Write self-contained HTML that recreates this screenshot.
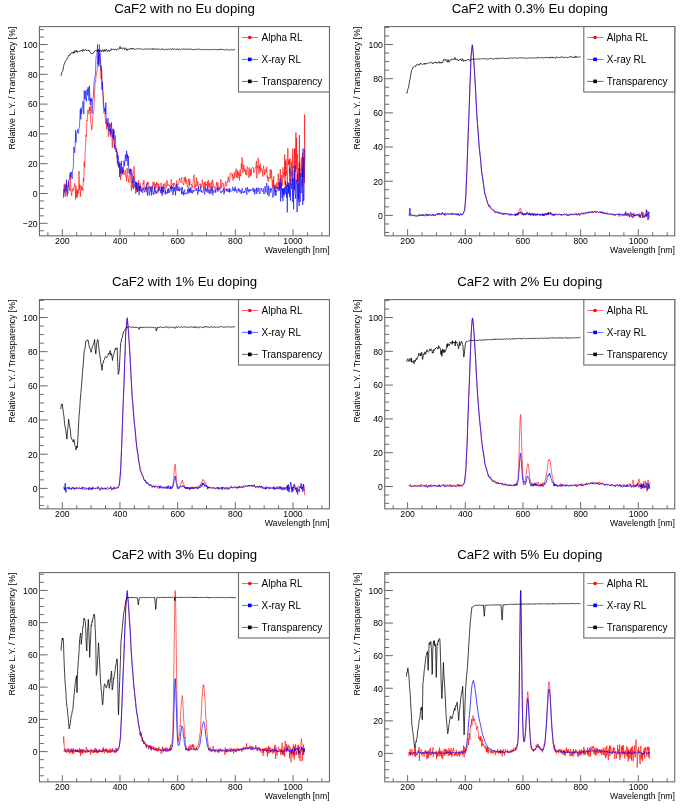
<!DOCTYPE html>
<html><head><meta charset="utf-8"><title>CaF2 Eu doping</title>
<style>html,body{margin:0;padding:0;background:#fff;width:685px;height:809px;overflow:hidden}svg{display:block;will-change:transform}</style>
</head><body>
<svg width="685" height="809" viewBox="0 0 685 809" font-family='"Liberation Sans", sans-serif'>
<rect width="685" height="809" fill="#fff"/>
<path d="M47.88 235.85V232.25M62.3 235.85V229.15M76.72 235.85V232.25M91.14 235.85V232.25M105.56 235.85V232.25M119.98 235.85V229.15M134.4 235.85V232.25M148.82 235.85V232.25M163.24 235.85V232.25M177.66 235.85V229.15M192.08 235.85V232.25M206.5 235.85V232.25M220.92 235.85V232.25M235.34 235.85V229.15M249.76 235.85V232.25M264.18 235.85V232.25M278.6 235.85V232.25M293.02 235.85V229.15M307.44 235.85V232.25M321.86 235.85V232.25M39.45 230.75H43.85M39.45 223.3H47.65M39.45 215.85H43.85M39.45 208.4H43.85M39.45 200.95H43.85M39.45 193.5H47.65M39.45 186.05H43.85M39.45 178.6H43.85M39.45 171.15H43.85M39.45 163.7H47.65M39.45 156.25H43.85M39.45 148.8H43.85M39.45 141.35H43.85M39.45 133.9H47.65M39.45 126.45H43.85M39.45 119H43.85M39.45 111.55H43.85M39.45 104.1H47.65M39.45 96.65H43.85M39.45 89.2H43.85M39.45 81.75H43.85M39.45 74.3H47.65M39.45 66.85H43.85M39.45 59.4H43.85M39.45 51.95H43.85M39.45 44.5H47.65M39.45 37.05H43.85M39.45 29.6H43.85" stroke="#6a6a6a" stroke-width="1" fill="none"/>
<rect x="39.45" y="26.6" width="290" height="209.25" fill="none" stroke="#6a6a6a" stroke-width="1.1"/>
<g font-size="8.7" fill="#000"><text transform="translate(62.3,244.3) scale(1,1.09)" text-anchor="middle">200</text><text transform="translate(119.98,244.3) scale(1,1.09)" text-anchor="middle">400</text><text transform="translate(177.66,244.3) scale(1,1.09)" text-anchor="middle">600</text><text transform="translate(235.34,244.3) scale(1,1.09)" text-anchor="middle">800</text><text transform="translate(293.02,244.3) scale(1,1.09)" text-anchor="middle">1000</text><text transform="translate(37.6,226.6) scale(1,1.09)" text-anchor="end">−20</text><text transform="translate(37.6,196.8) scale(1,1.09)" text-anchor="end">0</text><text transform="translate(37.6,167) scale(1,1.09)" text-anchor="end">20</text><text transform="translate(37.6,137.2) scale(1,1.09)" text-anchor="end">40</text><text transform="translate(37.6,107.4) scale(1,1.09)" text-anchor="end">60</text><text transform="translate(37.6,77.6) scale(1,1.09)" text-anchor="end">80</text><text transform="translate(37.6,47.8) scale(1,1.09)" text-anchor="end">100</text><text transform="translate(329.6,252.9) scale(1,1.0)" text-anchor="end">Wavelength [nm]</text><text transform="translate(14.7,26.6) rotate(-90)" text-anchor="end">Relative L.Y. / Transparency [%]</text></g>
<text transform="translate(184.5,13.3) scale(1,1.0)" text-anchor="middle" font-size="13.2">CaF2 with no Eu doping</text>
<path d="M63.5 196.1L63.9 187.2L64.3 183.8L64.8 192.2L65.2 196.7L65.6 189.7L66 186.7L66.5 183.2L66.9 196.1L67.3 196.5L67.8 185.4L68.2 186.7L68.6 180.8L69.1 183.9L69.5 189.9L69.9 190.9L70.4 175.1L70.8 190.9L71.2 193.7L71.7 195.7L72.1 188.8L72.5 188.5L73 191.3L73.4 189.7L73.8 187.8L74.3 185.5L74.7 183.3L75.1 188.2L75.6 199.3L76 185.4L76.4 197.2L76.9 190.3L77.3 197.5L77.7 189.3L78.2 193.7L78.6 188.2L79 171L79.5 189.6L79.9 184.7L80.3 196.7L80.8 190.9L81.2 185.7L81.6 189.9L82.1 187.3L82.5 188.8L82.9 190.8L83.4 177.9L83.8 181.4L84.2 161.8L84.7 167.3L85.1 152.1L85.5 147.7L85.9 134.7L86.4 136.7L86.8 120.3L87.2 121.1L87.7 109.9L88.1 110.5L88.5 110.2L89 114.2L89.4 107.2L89.8 111L90.3 106.3L90.7 121.7L91.1 123L91.6 130.1L92 128.8L92.4 121.9L92.9 114.8L93.3 114.5L93.7 112.1L94.2 103.6L94.6 93L95 83.5L95.5 82.4L95.9 77.8L96.3 75.3L96.8 71.6L97.2 71L97.6 64.4L98.1 55.3L98.5 64.3L98.9 63.2L99.4 44.5L99.8 56.6L100.2 57.1L100.7 62.4L101.1 78.9L101.5 65.9L102 75.4L102.4 89.3L102.8 93.2L103.3 102.6L103.7 112.8L104.1 112.8L104.6 114.1L105 114.3L105.4 119.7L105.8 124.3L106.3 119.1L106.7 129.4L107.1 122.9L107.6 122.1L108 129.2L108.4 136.7L108.9 133.3L109.3 128.7L109.7 128L110.2 124L110.6 136.9L111 133.5L111.5 131.8L111.9 136.7L112.3 148L112.8 134.7L113.2 129L113.6 136.2L114.1 146.5L114.5 145.7L114.9 144.2L115.4 135.4L115.8 146L116.2 151.4L116.7 147.9L117.1 158.5L117.5 152.3L118 165.8L118.4 166.7L118.8 163.1L119.3 161.7L119.7 167.1L120.1 170L120.6 179.9L121 175.1L121.4 174.8L121.9 174.7L122.3 169.7L122.7 174.2L123.2 169.2L123.6 172.7L124 174.8L124.5 172.9L124.9 171.7L125.3 170L125.7 176.3L126.2 175.6L126.6 181.2L127 168L127.5 169.1L127.9 177L128.3 178.8L128.8 182.7L129.2 176.6L129.6 176.9L130.1 168.3L130.5 177.5L130.9 182.6L131.4 190.7L131.8 173.5L132.2 179.5L132.7 188.2L133.1 180.5L133.5 189.2L134 166.3L134.4 177.6L134.8 180.6L135.3 184.4L135.7 193.9L136.1 185.1L136.6 192.1L137 182.5L137.4 192.2L137.9 188.3L138.3 181.6L138.7 180.4L139.2 189.5L139.6 190.7L140 183.1L140.5 183.3L140.9 189.2L141.3 188.4L141.8 188.5L142.2 190.2L142.6 188.6L143.1 182.6L143.5 184.4L143.9 180L144.3 186.8L144.8 186.9L145.2 189.6L145.6 186.9L146.1 190.7L146.5 192.1L146.9 184.2L147.4 181.8L147.8 183.8L148.2 182.2L148.7 185.6L149.1 188.7L149.5 186.1L150 187.6L150.4 189.9L150.8 191.7L151.3 191L151.7 186.3L152.1 185.8L152.6 187.8L153 181.7L153.4 185.7L153.9 184.4L154.3 182.3L154.7 188.8L155.2 192.5L155.6 183.8L156 188.4L156.5 182L156.9 185.1L157.3 182.9L157.8 183.7L158.2 192.7L158.6 183.8L159.1 188.2L159.5 188.5L159.9 187.4L160.4 183.6L160.8 183.2L161.2 182.8L161.7 191.3L162.1 187.9L162.5 193.6L163 186.3L163.4 184L163.8 188.4L164.2 185.1L164.7 185.2L165.1 182.7L165.5 188.5L166 188.5L166.4 188.2L166.8 180.1L167.3 182.1L167.7 185.9L168.1 184.7L168.6 184.9L169 184.5L169.4 185.7L169.9 186L170.3 188.9L170.7 186.8L171.2 179.4L171.6 182.8L172 184.2L172.5 185L172.9 184L173.3 183L173.8 186.1L174.2 183.3L174.6 183.1L175.1 186.1L175.5 186.1L175.9 186.7L176.4 186.8L176.8 180.5L177.2 190.7L177.7 184L178.1 184.7L178.5 184.4L179 181.7L179.4 178.1L179.8 181.1L180.3 181.5L180.7 182.6L181.1 180.7L181.6 177.1L182 180.9L182.4 183.5L182.9 184.1L183.3 183.8L183.7 184.9L184.1 177.2L184.6 179.7L185 181.8L185.4 176.6L185.9 183.6L186.3 179.3L186.7 179.4L187.2 187.1L187.6 187.3L188 185.4L188.5 179.6L188.9 178.4L189.3 186.6L189.8 179.4L190.2 184L190.6 184.1L191.1 184.7L191.5 184L191.9 188.8L192.4 186.3L192.8 187.1L193.2 181.7L193.7 176.6L194.1 174.6L194.5 184.5L195 189L195.4 184.8L195.8 186.6L196.3 177.3L196.7 181.9L197.1 186.1L197.6 180.9L198 182.2L198.4 189.2L198.9 185.7L199.3 184.9L199.7 184.1L200.2 183.8L200.6 185.4L201 183.8L201.5 186.3L201.9 187.4L202.3 179.7L202.8 183.5L203.2 183.3L203.6 189.8L204 185.3L204.5 182.3L204.9 189.1L205.3 181.5L205.8 186.3L206.2 183.9L206.6 185.6L207.1 184.5L207.5 181.4L207.9 186.6L208.4 180.3L208.8 187.8L209.2 188.3L209.7 183.1L210.1 188.8L210.5 186.6L211 182.6L211.4 181.7L211.8 191.2L212.3 184L212.7 179.6L213.1 181.8L213.6 186.4L214 187.6L214.4 186.7L214.9 189.4L215.3 186.6L215.7 186.4L216.2 186.3L216.6 182.1L217 186.7L217.5 190.6L217.9 182.6L218.3 189.4L218.8 187.5L219.2 186.5L219.6 187.2L220.1 189.3L220.5 187L220.9 179.2L221.4 188.2L221.8 186.7L222.2 182.7L222.7 183.9L223.1 183.9L223.5 183.6L223.9 194.6L224.4 190L224.8 185.9L225.2 184.4L225.7 181.2L226.1 184.6L226.5 186.1L227 183.4L227.4 183L227.8 179.6L228.3 176.7L228.7 180.7L229.1 182.3L229.6 182.2L230 173.8L230.4 172.7L230.9 173.6L231.3 173.9L231.7 173.7L232.2 176.9L232.6 173.8L233 180.6L233.5 176.8L233.9 178.7L234.3 172.4L234.8 177.5L235.2 175.2L235.6 172.8L236.1 168.6L236.5 177.3L236.9 177.7L237.4 170.3L237.8 178.1L238.2 171.5L238.7 175.6L239.1 173.5L239.5 180.5L240 169.8L240.4 174.7L240.8 176.2L241.3 163.6L241.7 169.2L242.1 157.4L242.6 170.1L243 173.1L243.4 171L243.8 164.6L244.3 171.3L244.7 169.1L245.1 168.7L245.6 174.5L246 170L246.4 172.5L246.9 175.4L247.3 166.5L247.7 167.2L248.2 169.5L248.6 173.5L249 177.9L249.5 167.5L249.9 169.8L250.3 176.3L250.8 169.4L251.2 175.4L251.6 169L252.1 168.2L252.5 167.2L252.9 167.7L253.4 167.8L253.8 173.1L254.2 169.8L254.7 170.3L255.1 169L255.5 166.8L256 165.2L256.4 160.9L256.8 178.3L257.3 165.8L257.7 168.2L258.1 157.8L258.6 163.3L259 174.2L259.4 165.8L259.9 169.8L260.3 163.7L260.7 172.3L261.2 168.5L261.6 168.8L262 168.8L262.4 171L262.9 176.6L263.3 167.5L263.7 165.6L264.2 170.5L264.6 174.9L265 170.2L265.5 169.1L265.9 172.6L266.3 172.3L266.8 166.8L267.2 177.8L267.6 175.9L268.1 181.9L268.5 177.3L268.9 177.9L269.4 179.2L269.8 178.6L270.2 169.1L270.7 178.2L271.1 178.7L271.5 169.9L272 180.2L272.4 188L272.8 179.9L273.3 186.3L273.7 176.4L274.1 189.1L274.6 186.8L274.9 191.3L275.1 184.5L275.4 189.4L275.7 185.7L276 187.3L276.3 188.6L276.6 182.4L276.9 182.7L277.2 185.7L277.4 189.1L277.7 189.2L278 183L278.3 173.6L278.6 185.8L278.9 187.3L279.2 186.3L279.5 188.4L279.8 187.1L280 181.3L280.3 169.2L280.6 178.7L280.9 181.8L281.2 189.5L281.5 175.2L281.8 176.8L282.1 186.1L282.3 184.9L282.6 176.3L282.9 167.3L283.2 170.2L283.5 173.5L283.8 177.8L284.1 171.9L284.4 174.7L284.7 154.5L284.9 184.6L285.2 177.3L285.5 161.5L285.8 176L286.1 159.2L286.4 173.4L286.7 171.2L287 176.3L287.3 186.5L287.5 182.2L287.8 148.2L288.1 164.6L288.4 164.7L288.7 160.6L289 164.5L289.3 159.1L289.6 173.4L289.8 172.7L290.1 158.4L290.4 174L290.7 185.6L291 172.3L291.3 176.1L291.6 161.6L291.9 178.1L292.2 182.4L292.4 173.1L292.7 148.6L293 169.2L293.3 166.3L293.6 168.1L293.9 164.1L294.2 155.3L294.5 148.6L294.8 190.6L295 148.4L295.3 167.5L295.6 171.9L295.9 132.5L296.2 169.4L296.5 138L296.8 152.1L297.1 181.7L297.3 158.6L297.6 154.5L297.9 167.5L298.2 201.6L298.5 170.5L298.8 168L299.1 182.4L299.4 135L299.7 168.2L299.9 170.5L300.2 168.8L300.5 176.6L300.8 176.4L301.1 161.5L301.4 157.6L301.7 171.4L302 164L302.2 186.5L302.5 152.8L302.8 175.1L303.1 157.7L303.4 177.7L303.7 170.5L304 157L304.3 183L304.6 114.6L304.8 160.9" fill="none" stroke="#ff0000" stroke-width="0.6" stroke-linejoin="round"/>
<path d="M63.5 198.2L63.9 189.1L64.3 191.6L64.8 192.5L65.2 184.7L65.6 189.2L66 190.8L66.5 179.7L66.9 191.1L67.3 194.4L67.8 194.1L68.2 188.8L68.6 181.7L69.1 179.8L69.5 177.5L69.9 172.9L70.4 172.7L70.8 176.9L71.2 171.9L71.7 174L72.1 179.1L72.5 170.3L73 169.9L73.4 165.2L73.8 146.9L74.3 149.8L74.7 152.8L75.1 146.6L75.6 130.2L76 142.6L76.4 134.8L76.9 133.3L77.3 131.7L77.7 129.4L78.2 133.5L78.6 131.5L79 127.9L79.5 126.7L79.9 116.6L80.3 109L80.8 119.3L81.2 107.7L81.6 113.7L82.1 109.9L82.5 105.2L82.9 101.3L83.4 103.2L83.8 114.2L84.2 90.5L84.7 98.6L85.1 99.4L85.5 90.9L85.9 97.3L86.4 101.2L86.8 89.5L87.2 89.1L87.7 95.3L88.1 87.1L88.5 91L89 100.8L89.4 85.8L89.8 95.6L90.3 105.2L90.7 98L91.1 101.6L91.6 98.6L92 113.5L92.4 101.7L92.9 99.4L93.3 95.5L93.7 90.7L94.2 81.3L94.6 78.8L95 76.2L95.5 75.8L95.9 59.3L96.3 55.3L96.8 54.4L97.2 50.5L97.6 44.5L98.1 64.1L98.5 49.4L98.9 66.6L99.4 54.8L99.8 53.9L100.2 52.8L100.7 69.9L101.1 69.2L101.5 76.4L102 89.7L102.4 81.8L102.8 89.8L103.3 95.3L103.7 105.4L104.1 107.5L104.6 111.5L105 108.3L105.4 114.1L105.8 102.6L106.3 120.6L106.7 121.7L107.1 122.6L107.6 126.9L108 118.1L108.4 122.6L108.9 131.5L109.3 126.6L109.7 123.2L110.2 134.7L110.6 129.3L111 132L111.5 122.4L111.9 131.5L112.3 136L112.8 137.8L113.2 128.7L113.6 139.6L114.1 130.3L114.5 148.5L114.9 145L115.4 147.4L115.8 151.5L116.2 151.9L116.7 150.5L117.1 158.6L117.5 164.3L118 155.1L118.4 157.1L118.8 167.5L119.3 164.2L119.7 177L120.1 162.9L120.6 173.6L121 171.3L121.4 160.9L121.9 173.8L122.3 167.1L122.7 170.4L123.2 172.3L123.6 168.1L124 160.8L124.5 166L124.9 161.6L125.3 154.6L125.7 156.8L126.2 161.2L126.6 150.9L127 158.1L127.5 154.3L127.9 165.9L128.3 156L128.8 170.1L129.2 173.3L129.6 169.4L130.1 170.7L130.5 169.6L130.9 174.5L131.4 171.1L131.8 169.5L132.2 178.9L132.7 183.1L133.1 180.2L133.5 176.3L134 177.4L134.4 183.4L134.8 187.3L135.3 184.4L135.7 181.5L136.1 189.6L136.6 182.4L137 187.3L137.4 187.2L137.9 191.2L138.3 183.1L138.7 188.7L139.2 195.2L139.6 185.8L140 191.1L140.5 186L140.9 189.1L141.3 191.9L141.8 189.4L142.2 191.7L142.6 193L143.1 190.4L143.5 187.7L143.9 190.2L144.3 190.7L144.8 192.3L145.2 188.6L145.6 189.6L146.1 187.3L146.5 189.3L146.9 183.5L147.4 195.6L147.8 190.6L148.2 188.7L148.7 187.5L149.1 195.5L149.5 194.5L150 190.6L150.4 187.1L150.8 186.9L151.3 195.5L151.7 190.1L152.1 186.7L152.6 190.4L153 193.9L153.4 192.9L153.9 194.9L154.3 186.6L154.7 191.4L155.2 191.9L155.6 193.4L156 191L156.5 193.5L156.9 193.7L157.3 190.7L157.8 191.3L158.2 189.1L158.6 190.1L159.1 186.7L159.5 190.7L159.9 189.7L160.4 189.8L160.8 193.2L161.2 186.7L161.7 192.4L162.1 195.8L162.5 186.5L163 188.5L163.4 192.4L163.8 187.5L164.2 187.5L164.7 188.3L165.1 194.4L165.5 190L166 194L166.4 192.6L166.8 192.5L167.3 193.4L167.7 189L168.1 193.2L168.6 188.6L169 190.1L169.4 192.6L169.9 190.1L170.3 188.4L170.7 186.9L171.2 191.5L171.6 185L172 188.8L172.5 186.6L172.9 195.1L173.3 194.1L173.8 186.8L174.2 191.4L174.6 189.2L175.1 186.8L175.5 195.4L175.9 189.2L176.4 184.4L176.8 188.1L177.2 190.4L177.7 188.9L178.1 190.7L178.5 188.2L179 186.5L179.4 191.4L179.8 188.8L180.3 189.7L180.7 188.3L181.1 188L181.6 194.2L182 186.9L182.4 187.9L182.9 194.2L183.3 191.6L183.7 195.4L184.1 191.6L184.6 189.6L185 194.4L185.4 193.2L185.9 193.5L186.3 192.9L186.7 193.2L187.2 194.1L187.6 188.8L188 191.3L188.5 193.3L188.9 187.4L189.3 191.8L189.8 188.8L190.2 193.2L190.6 187.7L191.1 191.6L191.5 192.6L191.9 189.8L192.4 193.4L192.8 192.9L193.2 190.1L193.7 191.6L194.1 189.8L194.5 190.3L195 190.1L195.4 190.3L195.8 189.1L196.3 190.6L196.7 188.3L197.1 188.6L197.6 194.6L198 194.2L198.4 187.4L198.9 191.5L199.3 190.2L199.7 190.8L200.2 190L200.6 186L201 192L201.5 190.4L201.9 190.5L202.3 192.8L202.8 192.3L203.2 191.1L203.6 190.6L204 189.7L204.5 194.6L204.9 193.7L205.3 187.1L205.8 190.9L206.2 188.8L206.6 191.4L207.1 192L207.5 186.1L207.9 193L208.4 192.4L208.8 189.1L209.2 190.5L209.7 193.9L210.1 190.2L210.5 189L211 193.6L211.4 191.6L211.8 188.9L212.3 186.5L212.7 195.3L213.1 191.9L213.6 190.4L214 192.4L214.4 192.4L214.9 191.5L215.3 189.4L215.7 192.7L216.2 188.7L216.6 188.8L217 188.7L217.5 187.3L217.9 191.6L218.3 190.6L218.8 188.4L219.2 187.9L219.6 188.6L220.1 191.4L220.5 191.5L220.9 193.2L221.4 191.4L221.8 192.3L222.2 191.5L222.7 191.3L223.1 188.8L223.5 188.7L223.9 190.6L224.4 192.8L224.8 190.6L225.2 189.6L225.7 188.7L226.1 190.1L226.5 188.8L227 191.8L227.4 189.2L227.8 189L228.3 191.2L228.7 192.1L229.1 188L229.6 192.5L230 189.1L230.4 191.1L230.9 191.2L231.3 191L231.7 191.4L232.2 190.6L232.6 186.8L233 187.5L233.5 190.8L233.9 189.5L234.3 188.6L234.8 191.4L235.2 186.7L235.6 190.4L236.1 189.2L236.5 192.5L236.9 192.8L237.4 192.5L237.8 191.8L238.2 188.4L238.7 191.1L239.1 188.7L239.5 191.4L240 192.5L240.4 190.2L240.8 191.3L241.3 193.9L241.7 190.4L242.1 188.1L242.6 190.9L243 193L243.4 192.1L243.8 193L244.3 191L244.7 192.4L245.1 190.7L245.6 190.1L246 187.8L246.4 192.9L246.9 194.7L247.3 187.2L247.7 189.6L248.2 191.2L248.6 189.5L249 192.4L249.5 191.2L249.9 189.1L250.3 191.1L250.8 190.2L251.2 189.6L251.6 190.3L252.1 191L252.5 189.4L252.9 187.8L253.4 187.9L253.8 192.3L254.2 188.9L254.7 194.4L255.1 193.4L255.5 189.7L256 189.4L256.4 187.7L256.8 194L257.3 188.3L257.7 191.6L258.1 191.5L258.6 189.6L259 187.6L259.4 192.4L259.9 194L260.3 191.7L260.7 190.7L261.2 188L261.6 189.8L262 191.1L262.4 191.5L262.9 191.5L263.3 188.5L263.7 193.9L264.2 193L264.6 193.6L265 186.2L265.5 189.8L265.9 192.7L266.3 187.4L266.8 183L267.2 186.3L267.6 194.8L268.1 190.7L268.5 185.7L268.9 196.5L269.4 194.3L269.8 191.3L270.2 187.8L270.7 192.6L271.1 189L271.5 190.1L272 188.3L272.4 193.8L272.8 197.5L273.3 197.2L273.7 188.7L274.1 185.6L274.6 187.4L274.9 195L275.1 195.5L275.4 190.1L275.7 192.4L276 195.7L276.3 191.1L276.6 191.9L276.9 189.4L277.2 187.5L277.4 188.2L277.7 188.2L278 187L278.3 189.2L278.6 191.1L278.9 190.6L279.2 182.4L279.5 190.3L279.8 184.3L280 179.3L280.3 178.7L280.6 201.3L280.9 187.8L281.2 182.7L281.5 191.4L281.8 193.1L282.1 197.7L282.3 192.9L282.6 188.5L282.9 201.1L283.2 188.6L283.5 194.3L283.8 188.3L284.1 196.2L284.4 187.8L284.7 187.2L284.9 193.5L285.2 193.4L285.5 181.1L285.8 183.5L286.1 194.4L286.4 184.8L286.7 197.6L287 192.5L287.3 212.4L287.5 193L287.8 182.4L288.1 192.4L288.4 183L288.7 193.8L289 185.4L289.3 189.4L289.6 196.9L289.8 168.7L290.1 195.8L290.4 200.6L290.7 186.7L291 183.3L291.3 184.5L291.6 188.9L291.9 183.2L292.2 178.4L292.4 181.5L292.7 201.9L293 169.9L293.3 188L293.6 209.3L293.9 178.8L294.2 189.2L294.5 184.5L294.8 165.8L295 193.5L295.3 194.5L295.6 198.6L295.9 185.3L296.2 179.8L296.5 182.7L296.8 185.2L297.1 212.2L297.3 183.8L297.6 173.9L297.9 193L298.2 193.2L298.5 199.1L298.8 183.5L299.1 206L299.4 162.1L299.7 188.8L299.9 193.8L300.2 201.8L300.5 178.9L300.8 173L301.1 193.2L301.4 183.3L301.7 181.6L302 172.3L302.2 176.9L302.5 168.2L302.8 204.8L303.1 148.5L303.4 192L303.7 200.8L304 198.1L304.3 179.1L304.6 173.4L304.8 148.9" fill="none" stroke="#0000ff" stroke-width="0.6" stroke-linejoin="round"/>
<path d="M61.1 75.8L61.7 72.8L62.3 71.8L62.9 70.3L63.5 66.7L64 64.7L64.6 63.1L65.2 61.8L65.8 60.9L66.3 60.2L66.9 59.3L67.5 57.9L68.1 56.9L68.6 55.4L69.2 54.9L69.8 55.5L70.4 53.5L71 53.7L71.5 52.6L72.1 52.1L72.7 52.4L73.3 53.7L73.8 51.7L74.4 52.9L75 50.5L75.6 52L76.1 51.6L76.7 50.2L77.3 52.5L77.9 51.3L78.5 52L79 51.5L79.6 51.7L80.2 50.5L80.8 51L81.3 50.4L81.9 50.1L82.5 51.5L83.1 49.3L83.6 50.3L84.2 51.1L84.8 50.2L85.4 49.4L85.9 49.4L86.5 50.7L87.1 50.3L87.7 50.4L88.3 50L88.8 51L89.4 50.4L90 52.2L90.6 53L91.1 53L91.7 53.9L92.3 54L92.9 53.1L93.4 52.9L94 52.1L94.6 51.2L95.2 51.1L95.8 50.3L96.3 50.5L96.9 50.4L97.5 51.6L98.1 49.8L98.6 50.2L99.2 49.9L99.8 51.6L100.4 50.7L100.9 50.8L101.5 51.8L102.1 50L102.7 49.8L103.3 51.6L103.8 50.4L104.4 49.5L105 51.5L105.6 50L106.1 49.6L106.7 49.4L107.3 51.6L107.9 51.4L108.4 50.5L109 49.9L109.6 51.4L110.2 50.7L110.8 50.6L111.3 48.7L111.9 49.9L112.5 49.2L113.1 49.3L113.6 49L114.2 49.6L114.8 49.7L115.4 49L115.9 49.4L116.5 50.4L117.1 49.8L117.7 48.7L118.2 49.1L118.8 49.3L119.4 48.8L120 46.5L120.6 48.7L121.1 48.2L121.7 48.1L122.3 48.7L122.9 47.7L123.4 48L124 48.3L124.6 49.6L125.2 47.8L125.7 48.2L126.3 48.8L126.9 50.6L127.5 48.9L128.1 49.7L128.6 49L129.2 49.2L129.8 49.5L130.4 48.2L130.9 48.8L131.5 48.1L132.1 49.6L132.7 49.1L133.2 48L133.8 48.7L134.4 49.2L135 49.3L135.6 49.2L136.1 49L136.7 48.8L137.3 49L137.9 48.8L138.4 48.8L139 49L139.6 48.6L140.2 48.8L140.7 49.1L141.3 49.1L141.9 49L142.5 49.3L143.1 49.5L143.6 49L144.2 49.2L144.8 48.9L145.4 49.2L145.9 49L146.5 49L147.1 49.2L147.7 49L148.2 49.3L148.8 49.2L149.4 48.8L150 49L150.6 49.1L151.1 49.3L151.7 48.9L152.3 48.5L152.9 49.8L153.4 48.8L154 49L154.6 48.8L155.2 48.8L155.7 49.4L156.3 48.6L156.9 49.3L157.5 49.2L158 48.9L158.6 49.2L159.2 49.1L159.8 49.3L160.4 49.5L160.9 49.1L161.5 49.5L162.1 48.7L162.7 49.1L163.2 48.7L163.8 49.5L164.4 49.8L165 49.9L165.5 49.3L166.1 49.6L166.7 49.1L167.3 49.6L167.9 49.6L168.4 49.1L169 49.3L169.6 49L170.2 48.9L170.7 49.1L171.3 49.6L171.9 49.5L172.5 48.5L173 49.3L173.6 49.1L174.2 49.2L174.8 49.2L175.4 49.3L175.9 49.4L176.5 49.4L177.1 49.8L177.7 48.7L178.2 49.3L178.8 49.6L179.4 49.1L180 49.1L180.5 49.7L181.1 49.4L181.7 48.8L182.3 49.1L182.9 49.2L183.4 49L184 49.3L184.6 49.4L185.2 48.8L185.7 49.4L186.3 49.3L186.9 49.1L187.5 49.3L188 49.7L188.6 48.8L189.2 49.4L189.8 48.8L190.3 49.2L190.9 49.7L191.5 48.9L192.1 49.4L192.7 49.7L193.2 49.4L193.8 50.1L194.4 49.3L195 49.6L195.5 49.5L196.1 49.7L196.7 49.2L197.3 49.3L197.8 49.1L198.4 48.9L199 49.4L199.6 49.4L200.2 49.4L200.7 49.7L201.3 49.6L201.9 49.3L202.5 49.8L203 50.1L203.6 49.6L204.2 49.4L204.8 49.1L205.3 49.7L205.9 49.8L206.5 49.5L207.1 49.6L207.7 49.5L208.2 49.7L208.8 49.5L209.4 49.7L210 49.3L210.5 49.5L211.1 49.4L211.7 49.7L212.3 50L212.8 49.6L213.4 49.6L214 49.2L214.6 49.3L215.2 49.6L215.7 49.6L216.3 49.9L216.9 49.6L217.5 49.5L218 49.7L218.6 49.9L219.2 49.2L219.8 49.9L220.3 49.1L220.9 49.3L221.5 49.1L222.1 49.9L222.7 49.4L223.2 50L223.8 49.7L224.4 50.1L225 49.9L225.5 49.8L226.1 49.3L226.7 49.3L227.3 49.8L227.8 49.7L228.4 49.9L229 50L229.6 50.2L230.1 49.7L230.7 49.5L231.3 49.9L231.9 49.6L232.5 50L233 50L233.6 49.8L234.2 49.4L234.8 49.8L235.3 49.5" fill="none" stroke="#000000" stroke-width="0.75" stroke-linejoin="round"/>
<rect x="238.5" y="26.6" width="90.95" height="65.4" fill="#fff" stroke="#6a6a6a" stroke-width="1.1"/>
<path d="M241.9 37.5H258.1" stroke="#f00" stroke-width="0.6"/>
<circle cx="249.8" cy="37.5" r="1.8" fill="#f00"/>
<text transform="translate(261.5,41) scale(1,1.0)" font-size="10">Alpha RL</text>
<path d="M241.9 59.4H258.1" stroke="#00f" stroke-width="0.6"/>
<rect x="248" y="57.6" width="3.6" height="3.6" fill="#00f"/>
<text transform="translate(261.5,62.9) scale(1,1.0)" font-size="10">X-ray RL</text>
<path d="M241.9 81.4H258.1" stroke="#000" stroke-width="0.6"/>
<rect x="248" y="79.6" width="3.6" height="3.6" fill="#000"/>
<text transform="translate(261.5,84.9) scale(1,1.0)" font-size="10">Transparency</text>
<path d="M393.18 235.85V232.25M407.6 235.85V229.15M422.02 235.85V232.25M436.44 235.85V232.25M450.86 235.85V232.25M465.28 235.85V229.15M479.7 235.85V232.25M494.12 235.85V232.25M508.54 235.85V232.25M522.96 235.85V229.15M537.38 235.85V232.25M551.8 235.85V232.25M566.22 235.85V232.25M580.64 235.85V229.15M595.06 235.85V232.25M609.48 235.85V232.25M623.9 235.85V232.25M638.32 235.85V229.15M652.74 235.85V232.25M667.16 235.85V232.25M384.75 232.49H389.15M384.75 223.94H389.15M384.75 215.4H392.95M384.75 206.86H389.15M384.75 198.31H389.15M384.75 189.77H389.15M384.75 181.22H392.95M384.75 172.68H389.15M384.75 164.13H389.15M384.75 155.59H389.15M384.75 147.04H392.95M384.75 138.5H389.15M384.75 129.95H389.15M384.75 121.41H389.15M384.75 112.86H392.95M384.75 104.31H389.15M384.75 95.77H389.15M384.75 87.22H389.15M384.75 78.68H392.95M384.75 70.13H389.15M384.75 61.59H389.15M384.75 53.04H389.15M384.75 44.5H392.95M384.75 35.95H389.15M384.75 27.41H389.15" stroke="#6a6a6a" stroke-width="1" fill="none"/>
<rect x="384.75" y="26.6" width="290" height="209.25" fill="none" stroke="#6a6a6a" stroke-width="1.1"/>
<g font-size="8.7" fill="#000"><text transform="translate(407.6,244.3) scale(1,1.09)" text-anchor="middle">200</text><text transform="translate(465.28,244.3) scale(1,1.09)" text-anchor="middle">400</text><text transform="translate(522.96,244.3) scale(1,1.09)" text-anchor="middle">600</text><text transform="translate(580.64,244.3) scale(1,1.09)" text-anchor="middle">800</text><text transform="translate(638.32,244.3) scale(1,1.09)" text-anchor="middle">1000</text><text transform="translate(382.9,218.7) scale(1,1.09)" text-anchor="end">0</text><text transform="translate(382.9,184.52) scale(1,1.09)" text-anchor="end">20</text><text transform="translate(382.9,150.34) scale(1,1.09)" text-anchor="end">40</text><text transform="translate(382.9,116.16) scale(1,1.09)" text-anchor="end">60</text><text transform="translate(382.9,81.98) scale(1,1.09)" text-anchor="end">80</text><text transform="translate(382.9,47.8) scale(1,1.09)" text-anchor="end">100</text><text transform="translate(674.9,252.9) scale(1,1.0)" text-anchor="end">Wavelength [nm]</text><text transform="translate(360,26.6) rotate(-90)" text-anchor="end">Relative L.Y. / Transparency [%]</text></g>
<text transform="translate(529.8,13.3) scale(1,1.0)" text-anchor="middle" font-size="13.2">CaF2 with 0.3% Eu doping</text>
<path d="M408.8 214.9L409.3 214.6L409.9 215.8L410.5 215.9L411.1 215.2L411.6 214.3L412.2 215.1L412.8 216L413.4 215.8L413.9 215.4L414.5 214.8L415.1 215.3L415.7 215.5L416.3 215.5L416.8 215.2L417.4 215.8L418 215.3L418.6 215.2L419.1 214.4L419.7 215.3L420.3 214.7L420.9 215.9L421.4 214.8L422 215.2L422.6 215.6L423.2 215.3L423.8 214.8L424.3 215.5L424.9 214.7L425.5 214.4L426.1 214.3L426.6 214.3L427.2 216L427.8 215L428.4 215.6L428.9 214.7L429.5 215.2L430.1 215.1L430.7 215L431.2 215.6L431.8 215.2L432.4 215.6L433 214L433.6 215.5L434.1 215L434.7 215.9L435.3 215.6L435.9 215.1L436.4 213.9L437 213.8L437.6 213.9L438.2 214.4L438.7 212.9L439.3 214.6L439.9 214.5L440.5 213.7L441.1 214.6L441.6 213.8L442.2 213.4L442.8 214L443.4 213.7L443.9 213.9L444.5 214.3L445.1 215.8L445.7 214.6L446.2 213.9L446.8 214.9L447.4 214.2L448 213.8L448.6 213.1L449.1 214.7L449.7 214.2L450.3 213.7L450.9 213.6L451.4 214.7L452 212.8L452.6 214.3L453.2 213.2L453.7 214L454.3 213.7L454.9 213L455.5 213.6L456.1 214L456.6 214.8L457.2 214.6L457.8 215.2L458.4 213.2L458.9 215.4L459.5 216L460.1 213.6L460.7 213.8L461.2 214.7L461.8 213.9L462.4 214.7L463 214.2L463.5 212.8L464.1 211.2L464.7 209.1L465.3 201.5L465.9 194.1L466.4 181.7L467 168.5L467.6 150.3L468.2 133.2L468.7 122.1L469.3 105L469.9 87.3L470.5 72.3L471 57.5L471.6 51.7L472.2 44.5L472.5 46.9L472.8 48.9L473.4 55.7L473.9 62.9L474.5 71L475.1 83.1L475.7 92.5L476.2 102.8L476.8 113.9L477.4 122.6L478 131.6L478.5 137.6L479.1 146.2L479.7 152.3L480.3 157.1L480.9 163.1L481.4 169.7L482 174.7L482.6 178.2L483.2 181.9L483.7 185.9L484.3 190.3L484.9 194.9L485.5 194.7L486 197.4L486.6 200.2L487.2 202.3L487.8 203.7L488.4 204.9L488.9 206.8L489.5 205.5L490.1 206.8L490.7 208.1L491.2 208.5L491.8 209.1L492.4 209.1L493 210L493.5 209.8L494.1 210L494.7 211.4L495.3 211.7L495.9 212.2L496.4 212.1L497 212.6L497.6 212.4L498.2 212.4L498.7 212.5L499.3 213.6L499.9 212.4L500.5 213.4L501 213.4L501.6 213.8L502.2 214.8L502.8 213.5L503.3 214.8L503.9 213.1L504.5 213.8L505.1 213L505.7 213.6L506.2 213.6L506.8 213.2L507.4 214.1L508 213.2L508.5 214.2L509.1 214.1L509.7 214.7L510.3 214L510.8 214L511.4 214.7L512 215.2L512.6 214.5L513.2 214.2L513.7 214.5L514.3 215L514.6 214.9L514.9 214.6L515.2 216L515.5 214.8L515.8 213.6L516 215.2L516.3 214.6L516.6 213.4L516.9 214L517.2 213.8L517.5 214.3L517.8 214.9L518.1 212.2L518.3 213.3L518.6 212.7L518.9 211.1L519.2 210.6L519.5 209.9L519.8 209.5L520.1 208.2L520.4 207.9L520.7 208.5L520.9 209.4L521.2 210.6L521.5 211.2L521.8 212.5L522.1 212.7L522.4 212.9L522.7 213.8L523 214.2L523.2 213.4L523.5 214L523.8 215.3L524.1 214.8L524.4 214.3L524.7 214.8L525 213.8L525.3 215.1L525.6 215L525.8 213L526.1 212.9L526.4 213.9L526.7 212.6L527 211.6L527.3 212.8L527.6 212.8L527.9 212.9L528.2 213L528.4 213.7L528.7 213.3L529 214.2L529.3 213.6L529.6 212.6L529.9 214.7L530.2 213.7L530.5 213.7L530.7 215.9L531 214.5L531.3 214.6L531.6 214.8L531.9 214.1L532.2 214.9L532.5 214.4L532.8 214.9L533.1 214.7L533.3 215.1L533.6 213.3L533.9 214.7L534.2 215.3L534.5 213.5L534.8 213.7L535.1 214.8L535.4 215.1L535.6 215.1L535.9 213.9L536.2 214.9L536.5 215.1L536.8 214.2L537.1 214.8L537.4 214.7L537.7 213.5L538 214.2L538.2 213.9L538.5 214.4L538.8 213.9L539.1 214.8L539.4 214.1L539.7 214.1L540 214.9L540.3 215.4L540.6 214.4L540.8 214.7L541.1 214.3L541.4 215L541.7 214.3L542 214.1L542.3 213.2L542.6 213.6L542.9 214.4L543.1 213.8L543.4 215L543.7 213.9L544 214.5L544.3 213.7L544.6 214.2L544.9 214.5L545.2 214.7L545.5 213.5L545.7 214L546 213.5L546.3 213.5L546.6 214.9L546.9 213.1L547.2 213.5L547.5 212.9L547.8 212.7L548.1 213.9L548.3 212.9L548.6 212.7L548.9 212.4L549.2 212.1L549.5 213.2L549.8 213L550.1 212.6L550.4 214.2L550.6 212.2L550.9 214L551.2 212.9L551.5 213.7L551.8 212.8L552.1 213.5L552.4 214.2L552.7 215.3L553 214.3L553.2 214.3L553.5 214.2L553.8 215.3L554.1 215.1L554.4 215.1L554.7 214.5L555.3 215.2L555.8 214.7L556.4 214.1L557 214.9L557.6 213.9L558.1 214.5L558.7 214.8L559.3 214L559.9 214.4L560.5 214.9L561 215L561.6 214.7L562.2 214.5L562.8 214L563.3 214.5L563.9 215.1L564.5 215.5L565.1 214.5L565.6 214.5L566.2 214L566.8 215L567.4 215.5L568 214.2L568.5 214.8L569.1 215.4L569.7 213.7L570.3 214.1L570.8 214.6L571.4 214.5L572 215.1L572.6 214L573.1 214.9L573.7 214.8L574.3 214.7L574.9 215.2L575.4 213.9L576 213.5L576.6 214L577.2 215.6L577.8 214.5L578.3 214.7L578.9 214L579.5 215.4L580.1 215.4L580.6 214.3L581.2 213.4L581.8 214L582.4 212.5L582.9 214.2L583.5 213.6L584.1 213.6L584.7 213.9L585.3 212.6L585.8 214L586.4 213.7L587 213.2L587.6 213.1L588.1 212.1L588.7 212.9L589.3 212.2L589.9 212.7L590.4 211.6L591 212.3L591.6 212L592.2 213.1L592.8 211.7L593.3 212.4L593.9 211.5L594.5 211.7L595.1 211.7L595.6 211.3L596.2 211.8L596.8 212.6L597.4 212L597.9 212L598.5 212.9L599.1 211.9L599.7 211.5L600.3 212.3L600.8 212.5L601.4 212.4L602 212.1L602.6 213.2L603.1 212.4L603.7 213.5L604.3 212.9L604.9 213L605.4 214.1L606 213.1L606.6 213.5L607.2 214.7L607.7 214.1L608.3 214.2L608.9 214.5L609.5 213.8L610.1 214.6L610.6 214.1L611.2 214.9L611.8 214.5L612.4 213.3L612.9 214.1L613.5 215.4L614.1 215L614.7 214.6L615.2 215.5L615.8 214L616.4 214.6L617 214.6L617.6 214.6L618.1 215L618.7 215.4L619.3 216.7L619.9 215.8L620.4 214.5L621 214.2L621.6 214.8L622.2 216.3L622.7 215L623.3 214.7L623.9 215.9L624.5 213.3L625.1 215.9L625.6 214.7L626.2 215.9L626.8 213.7L627.4 216.2L627.9 215.8L628.5 213.3L629.1 216.3L629.7 215.4L630.2 214L630.8 214.2L631.4 217.2L632 213.8L632.6 215.2L633.1 212.8L633.7 217.5L634.3 213.5L634.9 214.1L635.4 215.4L636 215.4L636.6 214L637.2 216L637.7 215.4L638.3 216.2L638.9 214.5L639.5 213.4L640.1 217.9L640.6 214.7L641.2 214.1L641.8 211.6L642.4 216.3L642.9 212L643.5 215.7L644.1 213.6L644.7 214.2L645.2 214.1L645.8 215.5L646.4 217.1L647 211.1L647.5 211.1L648.1 215L648.7 215.2L649.3 215.3L649.9 218.2" fill="none" stroke="#ff0000" stroke-width="0.6" stroke-linejoin="round"/>
<path d="M408.8 215.1L409.3 215.5L409.9 208.1L410.5 215L411.1 215.3L411.6 215.1L412.2 215.7L412.8 215.8L413.4 215L413.9 215.6L414.5 214.9L415.1 215.5L415.7 216.5L416.3 216.2L416.8 215.9L417.4 216.6L418 215.4L418.6 215.5L419.1 214.7L419.7 215.9L420.3 215.5L420.9 215L421.4 214.8L422 215.9L422.6 214.4L423.2 215.7L423.8 214.5L424.3 215.5L424.9 215.6L425.5 216.1L426.1 215.4L426.6 213.8L427.2 215.7L427.8 214.3L428.4 214.4L428.9 215.5L429.5 214.6L430.1 214.4L430.7 215.4L431.2 215.6L431.8 214.5L432.4 215L433 213.9L433.6 215L434.1 215.8L434.7 214.9L435.3 215.5L435.9 214.1L436.4 214L437 214.5L437.6 214.7L438.2 213.5L438.7 214.3L439.3 213.2L439.9 214.6L440.5 214.2L441.1 214.3L441.6 214.6L442.2 212.3L442.8 212.9L443.4 214.4L443.9 213.5L444.5 215.1L445.1 213.2L445.7 213.3L446.2 214.2L446.8 214.2L447.4 213.8L448 213.6L448.6 214.1L449.1 214.4L449.7 214.1L450.3 214.2L450.9 213.4L451.4 213.8L452 213.7L452.6 214.9L453.2 214.1L453.7 214.1L454.3 214.3L454.9 214.1L455.5 214.3L456.1 215.1L456.6 213.6L457.2 213.7L457.8 214.7L458.4 214L458.9 215.1L459.5 215.3L460.1 214.7L460.7 213.5L461.2 214.5L461.8 215.3L462.4 214.1L463 214.2L463.5 213.5L464.1 211.2L464.7 209.9L465.3 203.6L465.9 195.4L466.4 181L467 167.6L467.6 150.6L468.2 133.2L468.7 121.4L469.3 104.4L469.9 87.1L470.5 72L471 56.1L471.6 51.2L472.2 45.7L472.5 45.3L472.8 48.4L473.4 54.2L473.9 62.2L474.5 72.5L475.1 81.9L475.7 91.9L476.2 103.3L476.8 113.7L477.4 123.5L478 129.7L478.5 137L479.1 146L479.7 150.9L480.3 157.2L480.9 163.2L481.4 169.3L482 173.9L482.6 177.3L483.2 182.6L483.7 185.1L484.3 189.8L484.9 194.2L485.5 195.5L486 197L486.6 199.4L487.2 201.1L487.8 203.5L488.4 205L488.9 204.8L489.5 206.8L490.1 206.4L490.7 207.6L491.2 208.8L491.8 209.4L492.4 209.8L493 210.1L493.5 210.5L494.1 211L494.7 212.4L495.3 212.8L495.9 211.4L496.4 212.3L497 212.5L497.6 212.4L498.2 213.3L498.7 211.8L499.3 212.9L499.9 213.2L500.5 213.9L501 212.8L501.6 213L502.2 212.7L502.8 213.1L503.3 214.2L503.9 214.6L504.5 213L505.1 214.3L505.7 214L506.2 214.1L506.8 213.7L507.4 213.7L508 214.7L508.5 214.6L509.1 215.3L509.7 213.9L510.3 214.4L510.8 215.4L511.4 213.7L512 214.4L512.6 215.1L513.2 214.7L513.7 214.8L514.3 214.4L514.6 214.3L514.9 214.8L515.2 214.2L515.5 216.1L515.8 214.7L516 214.1L516.3 213.9L516.6 214L516.9 215.1L517.2 215.5L517.5 214.6L517.8 213L518.1 214.1L518.3 214.6L518.6 214.9L518.9 213.5L519.2 213.4L519.5 212.4L519.8 212.2L520.1 213.4L520.4 211.9L520.7 211.5L520.9 212.7L521.2 213.5L521.5 213.9L521.8 214.4L522.1 212.6L522.4 213.3L522.7 214.7L523 213.6L523.2 215.2L523.5 214.9L523.8 215L524.1 214.7L524.4 214.1L524.7 213.3L525 214L525.3 214.5L525.6 214.2L525.8 214.4L526.1 213.9L526.4 214.5L526.7 213.7L527 213.5L527.3 213.1L527.6 214.2L527.9 213.4L528.2 213.6L528.4 214.4L528.7 215.2L529 214.5L529.3 213.7L529.6 214.5L529.9 213.1L530.2 214.2L530.5 215L530.7 214.7L531 214.3L531.3 214.3L531.6 214.8L531.9 214.4L532.2 212.8L532.5 214.1L532.8 214.6L533.1 215L533.3 215.8L533.6 214.6L533.9 214.9L534.2 214.7L534.5 215L534.8 214.2L535.1 214L535.4 215.1L535.6 215.5L535.9 214.5L536.2 213.8L536.5 214.4L536.8 214.4L537.1 215.5L537.4 215L537.7 214.3L538 214.5L538.2 214.7L538.5 214.3L538.8 214.2L539.1 214.6L539.4 215.1L539.7 215.5L540 214.5L540.3 214.8L540.6 214.8L540.8 214L541.1 215.1L541.4 214.8L541.7 214.3L542 215.2L542.3 216L542.6 215L542.9 214.2L543.1 215L543.4 214.8L543.7 215.8L544 213.9L544.3 215.7L544.6 215L544.9 214.6L545.2 213.3L545.5 214.4L545.7 214.8L546 215.2L546.3 214.4L546.6 214.9L546.9 214.5L547.2 214L547.5 213.2L547.8 214.5L548.1 212.9L548.3 214.9L548.6 212.5L548.9 214.1L549.2 213.9L549.5 214L549.8 213.6L550.1 213.9L550.4 214.1L550.6 214.4L550.9 214.4L551.2 214.1L551.5 214.6L551.8 214.7L552.1 215.3L552.4 214.4L552.7 214.2L553 215.2L553.2 214L553.5 214.6L553.8 214.6L554.1 215.7L554.4 214.3L554.7 213.9L555.3 213.5L555.8 215L556.4 214.7L557 214.2L557.6 214.4L558.1 215.1L558.7 214.6L559.3 214.1L559.9 214.3L560.5 214.7L561 214.1L561.6 215.6L562.2 214.4L562.8 215.1L563.3 214.9L563.9 214.2L564.5 213.6L565.1 214.4L565.6 214.6L566.2 213.7L566.8 214.2L567.4 216L568 215L568.5 215.1L569.1 215.1L569.7 215.6L570.3 214.3L570.8 214.5L571.4 213.6L572 214.8L572.6 214.5L573.1 215L573.7 213.9L574.3 213.8L574.9 213.5L575.4 213.9L576 214.8L576.6 213.7L577.2 214.9L577.8 214.7L578.3 214.4L578.9 213L579.5 214.6L580.1 214.7L580.6 213.9L581.2 213.2L581.8 213.5L582.4 213.4L582.9 214.2L583.5 213.8L584.1 212.7L584.7 213.3L585.3 213.6L585.8 213.3L586.4 212.2L587 211.9L587.6 212.6L588.1 213.2L588.7 211.6L589.3 212.9L589.9 212.3L590.4 212.1L591 212.2L591.6 212.3L592.2 211.1L592.8 211.8L593.3 212.8L593.9 212.3L594.5 211.2L595.1 212L595.6 212.6L596.2 211.4L596.8 211.7L597.4 212L597.9 211.7L598.5 212.4L599.1 212.1L599.7 212L600.3 212.7L600.8 211.7L601.4 213.2L602 211.5L602.6 212.8L603.1 212.7L603.7 213.7L604.3 212.7L604.9 213.7L605.4 213L606 213.4L606.6 214L607.2 212.6L607.7 213.6L608.3 214.1L608.9 214.1L609.5 213.8L610.1 214L610.6 213.6L611.2 214.5L611.8 214.1L612.4 214.6L612.9 214.8L613.5 213.9L614.1 214.9L614.7 215.4L615.2 214.1L615.8 214.8L616.4 214.2L617 214.2L617.6 214.3L618.1 214.5L618.7 213.6L619.3 215.3L619.9 213.7L620.4 214.7L621 214.4L621.6 215L622.2 213.8L622.7 214.1L623.3 215.1L623.9 214.6L624.5 214.1L625.1 214.8L625.6 211.6L626.2 213.9L626.8 215.1L627.4 213.2L627.9 214.2L628.5 215.3L629.1 215.1L629.7 217.1L630.2 213.3L630.8 212L631.4 214.7L632 216L632.6 217.7L633.1 216.8L633.7 214.5L634.3 215.8L634.9 214.8L635.4 216.2L636 214.9L636.6 215L637.2 214.1L637.7 214.3L638.3 214.1L638.9 216.4L639.5 215.2L640.1 217.5L640.6 215.7L641.2 214.6L641.8 213.4L642.4 218L642.9 217L643.5 215.9L644.1 217.8L644.7 215.3L645.2 215L645.8 216.6L646.4 209.6L647 215.7L647.5 213.7L648.1 220L648.7 211.8L649.3 213.4L649.9 213.8" fill="none" stroke="#0000ff" stroke-width="0.72" stroke-linejoin="round"/>
<path d="M406.4 92.4L407 93.2L407.6 90.4L408.2 88.1L408.8 85.9L409.3 82.8L409.9 79.7L410.5 76.4L411.1 73L411.6 70.3L412.2 69.5L412.8 67.4L413.4 67L413.9 66.6L414.5 66.2L415.1 66.3L415.7 66.5L416.3 65L416.8 64.8L417.4 64.1L418 64L418.6 65.2L419.1 64.7L419.7 64.9L420.3 63.2L420.9 64L421.4 63.7L422 64.4L422.6 64.6L423.2 64L423.8 63.6L424.3 63.1L424.9 64.5L425.5 63.1L426.1 63.9L426.6 63.6L427.2 63.4L427.8 63.5L428.4 62.8L428.9 62.4L429.5 62.8L430.1 63.4L430.7 62.6L431.2 62.6L431.8 62.2L432.4 62.6L433 64L433.6 63.3L434.1 63L434.7 62L435.3 62.8L435.9 61.9L436.4 62.4L437 63.4L437.6 62.5L438.2 61.9L438.7 61.9L439.3 63.2L439.9 61.6L440.5 62.3L441.1 63.3L441.6 62L442.2 62.9L442.8 62.3L443.4 60.1L443.9 59.2L444.5 60.1L445.1 60.5L445.7 59.2L446.2 60.3L446.8 61.2L447.4 62.2L448 59.6L448.6 61.9L449.1 62.3L449.7 60.5L450.3 59.8L450.9 60.4L451.4 58.9L452 59.6L452.6 59.3L453.2 59L453.7 59.7L454.3 59L454.9 57.3L455.5 59.9L456.1 59.2L456.6 59L457.2 59.9L457.8 59.6L458.4 61L458.9 60.2L459.5 59.9L460.1 59.1L460.7 59.2L461.2 60.4L461.8 60.9L462.4 58.6L463 59.4L463.5 61.5L464.1 60.3L464.7 60.7L465.3 60.4L465.9 61.2L466.4 60.2L467 60.2L467.6 59.9L468.2 58.9L468.7 59.4L469.3 60.5L469.9 60.8L470.5 59.8L471 59.1L471.6 59.1L472.2 59.4L472.8 58.9L473.4 59.1L473.9 59.3L474.5 59L475.1 59.2L475.7 59.4L476.2 59.2L476.8 59.1L477.4 58.7L478 59.3L478.5 59L479.1 59L479.7 59L480.3 59.3L480.9 58.7L481.4 58.6L482 58.5L482.6 58.8L483.2 58.5L483.7 58.8L484.3 58.6L484.9 59L485.5 58.8L486 58.9L486.6 59.1L487.2 58.9L487.8 59.1L488.4 59.1L488.9 58.9L489.5 58.9L490.1 58.2L490.7 58.3L491.2 58.4L491.8 58.5L492.4 58.9L493 58.6L493.5 59L494.1 58.8L494.7 58.7L495.3 58.7L495.9 58.4L496.4 58.8L497 57.9L497.6 58.7L498.2 58.3L498.7 58.9L499.3 58.3L499.9 58.8L500.5 58.4L501 58.4L501.6 58.2L502.2 58.3L502.8 58.3L503.3 58.4L503.9 57.9L504.5 58.5L505.1 58.3L505.7 58.5L506.2 58.3L506.8 58.6L507.4 58.4L508 58.2L508.5 58.4L509.1 58.2L509.7 58.4L510.3 57.9L510.8 58.3L511.4 57.8L512 58.1L512.6 58.3L513.2 58L513.7 57.9L514.3 57.8L514.9 57.8L515.5 57.9L516 58.5L516.6 57.9L517.2 58.2L517.8 58L518.3 57.8L518.9 58.3L519.5 57.8L520.1 57.5L520.7 58L521.2 58.2L521.8 57.7L522.4 58L523 57.8L523.5 57.7L524.1 58.4L524.7 58L525.3 58.4L525.8 58.2L526.4 57.9L527 58.3L527.6 58.2L528.2 58.1L528.7 57.9L529.3 57.9L529.9 57.8L530.5 58.1L531 58.1L531.6 57.8L532.2 58.1L532.8 58.1L533.3 57.7L533.9 58.1L534.5 58.1L535.1 57.6L535.6 57.9L536.2 58.4L536.8 58L537.4 57.3L538 57.1L538.5 57.9L539.1 57.6L539.7 57.6L540.3 57.7L540.8 58.2L541.4 57.5L542 57.7L542.6 57.8L543.1 58.1L543.7 57.9L544.3 57.7L544.9 57.8L545.5 57.6L546 57.9L546.6 57.2L547.2 57.3L547.8 58.2L548.3 57.9L548.9 57.4L549.5 57.9L550.1 56.9L550.6 57.9L551.2 57.5L551.8 57.3L552.4 58.1L553 56.9L553.5 57.6L554.1 57.9L554.7 57.9L555.3 58.4L555.8 58.2L556.4 56.7L557 57.5L557.6 57.6L558.1 57.3L558.7 57.1L559.3 57.8L559.9 57.5L560.5 57.3L561 56.9L561.6 57.2L562.2 56.5L562.8 57.5L563.3 57.5L563.9 58L564.5 57.3L565.1 57L565.6 57.4L566.2 57.4L566.8 57.8L567.4 57.6L568 57.5L568.5 57.3L569.1 56.7L569.7 57L570.3 56.7L570.8 56.6L571.4 57.4L572 56.5L572.6 57.1L573.1 57.8L573.7 57.4L574.3 57.2L574.9 57.9L575.4 55.9L576 57.1L576.6 56.6L577.2 57.7L577.8 57L578.3 56.9L578.9 57.4L579.5 56.9L580.1 57L580.6 56.8" fill="none" stroke="#000000" stroke-width="0.75" stroke-linejoin="round"/>
<rect x="583.8" y="26.6" width="90.95" height="65.4" fill="#fff" stroke="#6a6a6a" stroke-width="1.1"/>
<path d="M587.2 37.5H603.4" stroke="#f00" stroke-width="0.6"/>
<circle cx="595.1" cy="37.5" r="1.8" fill="#f00"/>
<text transform="translate(606.8,41) scale(1,1.0)" font-size="10">Alpha RL</text>
<path d="M587.2 59.4H603.4" stroke="#00f" stroke-width="0.6"/>
<rect x="593.3" y="57.6" width="3.6" height="3.6" fill="#00f"/>
<text transform="translate(606.8,62.9) scale(1,1.0)" font-size="10">X-ray RL</text>
<path d="M587.2 81.4H603.4" stroke="#000" stroke-width="0.6"/>
<rect x="593.3" y="79.6" width="3.6" height="3.6" fill="#000"/>
<text transform="translate(606.8,84.9) scale(1,1.0)" font-size="10">Transparency</text>
<path d="M47.88 508.85V505.25M62.3 508.85V502.15M76.72 508.85V505.25M91.14 508.85V505.25M105.56 508.85V505.25M119.98 508.85V502.15M134.4 508.85V505.25M148.82 508.85V505.25M163.24 508.85V505.25M177.66 508.85V502.15M192.08 508.85V505.25M206.5 508.85V505.25M220.92 508.85V505.25M235.34 508.85V502.15M249.76 508.85V505.25M264.18 508.85V505.25M278.6 508.85V505.25M293.02 508.85V502.15M307.44 508.85V505.25M321.86 508.85V505.25M39.45 505.49H43.85M39.45 496.94H43.85M39.45 488.4H47.65M39.45 479.85H43.85M39.45 471.31H43.85M39.45 462.76H43.85M39.45 454.22H47.65M39.45 445.67H43.85M39.45 437.13H43.85M39.45 428.58H43.85M39.45 420.04H47.65M39.45 411.5H43.85M39.45 402.95H43.85M39.45 394.4H43.85M39.45 385.86H47.65M39.45 377.31H43.85M39.45 368.77H43.85M39.45 360.23H43.85M39.45 351.68H47.65M39.45 343.13H43.85M39.45 334.59H43.85M39.45 326.04H43.85M39.45 317.5H47.65M39.45 308.95H43.85M39.45 300.41H43.85" stroke="#6a6a6a" stroke-width="1" fill="none"/>
<rect x="39.45" y="299.6" width="290" height="209.25" fill="none" stroke="#6a6a6a" stroke-width="1.1"/>
<g font-size="8.7" fill="#000"><text transform="translate(62.3,517.3) scale(1,1.09)" text-anchor="middle">200</text><text transform="translate(119.98,517.3) scale(1,1.09)" text-anchor="middle">400</text><text transform="translate(177.66,517.3) scale(1,1.09)" text-anchor="middle">600</text><text transform="translate(235.34,517.3) scale(1,1.09)" text-anchor="middle">800</text><text transform="translate(293.02,517.3) scale(1,1.09)" text-anchor="middle">1000</text><text transform="translate(37.6,491.7) scale(1,1.09)" text-anchor="end">0</text><text transform="translate(37.6,457.52) scale(1,1.09)" text-anchor="end">20</text><text transform="translate(37.6,423.34) scale(1,1.09)" text-anchor="end">40</text><text transform="translate(37.6,389.16) scale(1,1.09)" text-anchor="end">60</text><text transform="translate(37.6,354.98) scale(1,1.09)" text-anchor="end">80</text><text transform="translate(37.6,320.8) scale(1,1.09)" text-anchor="end">100</text><text transform="translate(329.6,525.9) scale(1,1.0)" text-anchor="end">Wavelength [nm]</text><text transform="translate(14.7,299.6) rotate(-90)" text-anchor="end">Relative L.Y. / Transparency [%]</text></g>
<text transform="translate(184.5,286.3) scale(1,1.0)" text-anchor="middle" font-size="13.2">CaF2 with 1% Eu doping</text>
<path d="M63.5 488L64 488.3L64.6 489L65.2 487.7L65.8 488.1L66.3 488.1L66.9 488.2L67.5 487.3L68.1 487.7L68.6 487.5L69.2 488.5L69.8 488.6L70.4 488.9L71 488.5L71.5 490L72.1 487.3L72.7 488.2L73.3 488.2L73.8 487.8L74.4 488.5L75 488.1L75.6 487.8L76.1 489.3L76.7 487.2L77.3 488.2L77.9 487.9L78.5 489L79 488.7L79.6 487.2L80.2 488.6L80.8 488.6L81.3 488L81.9 487.4L82.5 489.8L83.1 487.4L83.6 488.1L84.2 487.7L84.8 488.9L85.4 488.1L85.9 487.3L86.5 488.4L87.1 488.7L87.7 488.6L88.3 488.6L88.8 487.8L89.4 488.2L90 488.6L90.6 487.8L91.1 489L91.7 489.2L92.3 486.7L92.9 488.7L93.4 487.3L94 488.4L94.6 488.4L95.2 488L95.8 488.8L96.3 488.8L96.9 488.4L97.5 488.5L98.1 487.8L98.6 487.1L99.2 489.1L99.8 488.9L100.4 487.8L100.9 488L101.5 487.6L102.1 488.8L102.7 487.9L103.3 488.3L103.8 489.3L104.4 488L105 489.3L105.6 488L106.1 488.6L106.7 488.4L107.3 486.9L107.9 487.3L108.4 488L109 488L109.6 488.8L110.2 487.5L110.8 487.9L111.3 488.8L111.9 489.4L112.5 488.3L113.1 488.4L113.6 487.7L114.2 489L114.8 488.8L115.4 487.9L115.9 488L116.5 487.4L117.1 487.1L117.7 488.2L118.2 488.3L118.8 485.6L119.4 483.5L120 477.4L120.6 473L121.1 458.5L121.7 445.6L122.3 428.6L122.9 410.5L123.4 398.2L124 383.5L124.6 364.3L125.2 348.8L125.7 334.4L126.3 326.7L126.9 320.8L127.2 317.5L127.5 320.7L128.1 327.4L128.6 333.7L129.2 343L129.8 353.5L130.4 363.9L130.9 373.6L131.5 385.2L132.1 395.7L132.7 402.4L133.2 410.7L133.8 417L134.4 423.9L135 429.4L135.6 434.6L136.1 440.5L136.7 446.7L137.3 452L137.9 454.7L138.4 459L139 461.6L139.6 465L140.2 468L140.7 470L141.3 472L141.9 473.9L142.5 476.5L143.1 477.3L143.6 478.9L144.2 480.2L144.8 480.3L145.4 480.1L145.9 482L146.5 483.7L147.1 482.2L147.7 483.3L148.2 483.5L148.8 484.5L149.4 484.3L150 483.8L150.6 485.5L151.1 484.8L151.7 485.3L152.3 486.3L152.9 485.8L153.4 485.8L154 486.9L154.6 485.7L155.2 487.3L155.7 486L156.3 486.4L156.9 486.8L157.5 487.6L158 487.6L158.6 488.6L159.2 487.2L159.8 487.3L160.4 487L160.9 486.7L161.5 487.3L162.1 487.7L162.7 486.9L163.2 487.5L163.8 487.6L164.4 488.4L165 487L165.5 488.1L166.1 486.5L166.7 488.3L167.3 488L167.9 487.7L168.4 488.2L169 488.6L169.3 488.4L169.6 488.2L169.9 487.8L170.2 487L170.4 487.2L170.7 487.3L171 487L171.3 488.8L171.6 487.7L171.9 487.5L172.2 487.5L172.5 486L172.8 485.8L173 484.6L173.3 481.3L173.6 479.5L173.9 475.9L174.2 473L174.5 468L174.8 466.1L175.1 464.2L175.4 464.7L175.6 468.2L175.9 472.3L176.2 476.2L176.5 478L176.8 482L177.1 483.5L177.4 485.2L177.7 488.4L177.9 486.7L178.2 487L178.5 487.1L178.8 487.3L179.1 487L179.4 487.6L179.7 486.3L180 486.5L180.3 485.6L180.5 483.9L180.8 484L181.1 483.9L181.4 482.2L181.7 482.6L182 481L182.3 480.1L182.6 481.8L182.9 481.8L183.1 483L183.4 483.2L183.7 484L184 485L184.3 486L184.6 487.6L184.9 487.5L185.2 487.5L185.4 486.9L185.7 488.9L186 487L186.3 488.3L186.6 488.9L186.9 487L187.2 487.7L187.5 488.5L187.8 487.8L188 487.6L188.3 488.8L188.6 487.1L188.9 488.5L189.2 487.4L189.5 488.3L189.8 489L190.1 488.4L190.3 488.3L190.6 487.9L190.9 489L191.2 488.6L191.5 487.8L191.8 488.2L192.1 488.3L192.4 487.7L192.7 488.8L192.9 486.7L193.2 488.4L193.5 487.7L193.8 488.1L194.1 487.3L194.4 488.2L194.7 488.4L195 487.8L195.3 487.5L195.5 488L195.8 486.6L196.1 487.4L196.4 487L196.7 487L197 487.1L197.3 487.8L197.6 486.6L197.8 487.8L198.1 487.3L198.4 486.4L198.7 486.4L199 487.5L199.3 486.7L199.6 486.7L199.9 485L200.2 485.5L200.4 484.7L200.7 484.6L201 483.8L201.3 482.5L201.6 482.9L201.9 481.6L202.2 481.4L202.5 480.8L202.8 481L203 479.3L203.3 480.9L203.6 480.8L203.9 480.5L204.2 480.6L204.5 481.6L204.8 482.7L205.1 482.6L205.3 483.5L205.6 483.9L205.9 483.1L206.2 486L206.5 485.3L206.8 485.5L207.1 486.4L207.4 486.7L207.7 486.1L207.9 487.2L208.2 488.3L208.5 487.7L208.8 487.3L209.1 487.9L209.4 488.1L210 487.7L210.5 488.2L211.1 487.9L211.7 487.6L212.3 488.4L212.8 489L213.4 487.2L214 487.8L214.6 488.5L215.2 488.9L215.7 488.1L216.3 487.9L216.9 487.8L217.5 487.9L218 488.4L218.6 488.3L219.2 489L219.8 488.6L220.3 488.4L220.9 487.4L221.5 488.9L222.1 486.9L222.7 487.5L223.2 488.4L223.8 488.5L224.4 487.9L225 487.8L225.5 487.6L226.1 489.1L226.7 488.3L227.3 487.7L227.8 487.5L228.4 487.7L229 488L229.6 487.8L230.1 488.3L230.7 486.9L231.3 487.3L231.9 487.6L232.5 488.2L233 487.8L233.6 487.5L234.2 487.6L234.8 486.6L235.3 486.3L235.9 486.9L236.5 488.1L237.1 486.9L237.6 487.5L238.2 487.1L238.8 485.9L239.4 488L240 487.7L240.5 487.2L241.1 486.2L241.7 486.8L242.3 487.7L242.8 486.2L243.4 485.9L244 485.5L244.6 486.1L245.1 485.4L245.7 486.4L246.3 485.4L246.9 485.1L247.5 486L248 486L248.6 485L249.2 486.2L249.8 486.3L250.3 485.7L250.9 485.4L251.5 485.2L252.1 486.1L252.6 485.6L253.2 486.5L253.8 486.7L254.4 484.6L255 486.6L255.5 487.2L256.1 486.1L256.7 486.9L257.3 486.1L257.8 488.1L258.4 487.4L259 486.1L259.6 486.7L260.1 487.5L260.7 486.1L261.3 486.5L261.9 487.5L262.4 486.6L263 487L263.6 488.2L264.2 488L264.8 487.5L265.3 488.3L265.9 488.7L266.5 488.1L267.1 487.4L267.6 487.8L268.2 488.5L268.8 489.4L269.4 487.5L269.9 488.2L270.5 487.5L271.1 488.1L271.7 488.4L272.3 488L272.8 488.5L273.4 488.5L274 488.7L274.6 489.7L275.1 487.4L275.7 487.3L276.3 488.6L276.9 488.5L277.4 486.2L278 487.7L278.6 488.6L279.2 489.4L279.8 486.5L280.3 486.9L280.9 489.1L281.5 487.4L282.1 489.2L282.6 488.6L283.2 486.9L283.8 488.5L284.4 489.1L284.9 490.1L285.5 487.4L286.1 488.5L286.7 489.9L287.3 485.3L287.8 489.2L288.4 489L289 487.6L289.6 488.6L290.1 488.2L290.7 487.6L291.3 489L291.9 489.8L292.4 488.7L293 486.4L293.6 488.2L294.2 485.4L294.8 488L295.3 489.9L295.9 487.8L296.5 488.6L297.1 489.1L297.6 488.6L298.2 486.3L298.8 486.4L299.4 487.5L299.9 487.7L300.5 486.8L301.1 486.6L301.7 487.3L302.2 489.7L302.8 485.4L303.4 485.5L304 485.1L304.6 495.1" fill="none" stroke="#ff0000" stroke-width="0.6" stroke-linejoin="round"/>
<path d="M63.5 486.8L64 487.6L64.6 490.2L65.2 483.2L65.8 492.5L66.3 488.3L66.9 487.7L67.5 487.9L68.1 487.9L68.6 489.2L69.2 486.9L69.8 488.9L70.4 488.4L71 488.4L71.5 488.4L72.1 488.8L72.7 487.2L73.3 488.3L73.8 487.6L74.4 489.6L75 487.9L75.6 488.5L76.1 488.1L76.7 488.2L77.3 488L77.9 488.5L78.5 488.3L79 488.3L79.6 488.2L80.2 488.3L80.8 488.7L81.3 488L81.9 489L82.5 486.8L83.1 487.7L83.6 487.2L84.2 488.5L84.8 489.4L85.4 489.6L85.9 489L86.5 488.9L87.1 488.7L87.7 488.7L88.3 487.9L88.8 490.2L89.4 487.1L90 488.7L90.6 488.3L91.1 489.8L91.7 488.2L92.3 489.5L92.9 488L93.4 488.2L94 488.2L94.6 488.5L95.2 488.6L95.8 488.6L96.3 487.7L96.9 488.3L97.5 488.2L98.1 486.5L98.6 488.3L99.2 489.1L99.8 490.2L100.4 490.3L100.9 488.3L101.5 487.7L102.1 489.2L102.7 489.3L103.3 488.5L103.8 488.3L104.4 487.7L105 488.5L105.6 488.9L106.1 487.9L106.7 489.1L107.3 489.5L107.9 489.3L108.4 488.7L109 488.7L109.6 488.4L110.2 488.4L110.8 486.5L111.3 488.1L111.9 490.1L112.5 489.5L113.1 488.3L113.6 489.1L114.2 486.7L114.8 488.7L115.4 488.6L115.9 488.1L116.5 488.3L117.1 487.5L117.7 487.9L118.2 486.7L118.8 486.2L119.4 485.2L120 477.3L120.6 470L121.1 459.3L121.7 446.1L122.3 427.6L122.9 411.1L123.4 398.1L124 383.6L124.6 364.4L125.2 349.4L125.7 333.2L126.3 326.6L126.9 320.7L127.2 318.6L127.5 320.5L128.1 327.4L128.6 333.1L129.2 342.8L129.8 350.9L130.4 363.6L130.9 373.6L131.5 383.8L132.1 396.2L132.7 401.6L133.2 408.2L133.8 417.1L134.4 423.5L135 428.4L135.6 435.1L136.1 441L136.7 446L137.3 451.1L137.9 452.9L138.4 458.6L139 462.2L139.6 466.4L140.2 470.5L140.7 471.7L141.3 472.7L141.9 474.4L142.5 475.4L143.1 475.9L143.6 478.2L144.2 479.7L144.8 480.9L145.4 480.1L145.9 482.5L146.5 482.7L147.1 482L147.7 483.6L148.2 484L148.8 484.2L149.4 486L150 485L150.6 485L151.1 485.1L151.7 485.9L152.3 487.5L152.9 486.7L153.4 485.7L154 487L154.6 487.3L155.2 486.3L155.7 486.4L156.3 486.8L156.9 486.6L157.5 486.5L158 486.8L158.6 487L159.2 485.9L159.8 488.3L160.4 485.7L160.9 487.3L161.5 488.1L162.1 487L162.7 486.8L163.2 488.6L163.8 487.6L164.4 487.1L165 487.1L165.5 487.8L166.1 488.7L166.7 488L167.3 486.2L167.9 488.6L168.4 485.5L169 487.9L169.3 488L169.6 488.3L169.9 487.8L170.2 487.7L170.4 488.7L170.7 486.2L171 486.9L171.3 487.5L171.6 488.8L171.9 487.9L172.2 487.6L172.5 486.6L172.8 486.9L173 487L173.3 485.3L173.6 483.9L173.9 482.1L174.2 479.7L174.5 479.2L174.8 478.7L175.1 476.1L175.4 476.7L175.6 479.7L175.9 479.8L176.2 482.6L176.5 483.3L176.8 484.7L177.1 487.3L177.4 487.7L177.7 487.4L177.9 488.7L178.2 488.6L178.5 488.5L178.8 487.9L179.1 487.8L179.4 488.3L179.7 487.7L180 486.4L180.3 486.7L180.5 486.5L180.8 487L181.1 486.6L181.4 486.6L181.7 486L182 486.6L182.3 485.2L182.6 485.5L182.9 485.9L183.1 486.2L183.4 487.1L183.7 485.9L184 486.4L184.3 486.3L184.6 487.2L184.9 487.8L185.2 487.1L185.4 488.9L185.7 489.1L186 487.3L186.3 487.7L186.6 487.9L186.9 487L187.2 488.1L187.5 487.9L187.8 487.8L188 489.1L188.3 487.8L188.6 487.7L188.9 488.2L189.2 488.7L189.5 488.8L189.8 489.9L190.1 488.8L190.3 487.1L190.6 487.2L190.9 488.2L191.2 488.8L191.5 487.2L191.8 487.3L192.1 487.7L192.4 488.7L192.7 487.5L192.9 487.4L193.2 488.5L193.5 488.8L193.8 488.5L194.1 488L194.4 487.8L194.7 487.7L195 488.1L195.3 488.5L195.5 487.8L195.8 487.3L196.1 488L196.4 487.5L196.7 488.1L197 488.6L197.3 488.3L197.6 488.1L197.8 489.1L198.1 488L198.4 488.3L198.7 487.5L199 487L199.3 487.3L199.6 487.6L199.9 486.9L200.2 487.7L200.4 486.2L200.7 485.3L201 485.6L201.3 484.6L201.6 485.7L201.9 486.5L202.2 484.4L202.5 482.8L202.8 485.1L203 483.1L203.3 484.7L203.6 483.1L203.9 484.9L204.2 484.8L204.5 484.5L204.8 486.3L205.1 485.3L205.3 485.8L205.6 485.3L205.9 486.1L206.2 486.5L206.5 486.9L206.8 485.6L207.1 486.9L207.4 487.3L207.7 489.2L207.9 486.5L208.2 487.8L208.5 487.7L208.8 487.3L209.1 487.8L209.4 486.9L210 488L210.5 487.7L211.1 487.9L211.7 487.6L212.3 487.9L212.8 487.8L213.4 487.9L214 488L214.6 487.7L215.2 488.7L215.7 488.7L216.3 488.2L216.9 488.1L217.5 487.2L218 489.3L218.6 487.1L219.2 488.6L219.8 488.8L220.3 487.9L220.9 487.9L221.5 487.4L222.1 489.8L222.7 487.3L223.2 487.8L223.8 487.1L224.4 488.3L225 489.3L225.5 488.3L226.1 488.3L226.7 487.6L227.3 487.4L227.8 489.7L228.4 489.3L229 488L229.6 488.6L230.1 487.2L230.7 486.9L231.3 486.3L231.9 487.8L232.5 487L233 487.3L233.6 487.6L234.2 488L234.8 486.8L235.3 487L235.9 487.6L236.5 487.6L237.1 488.7L237.6 487.1L238.2 487.1L238.8 487.9L239.4 486L240 486.9L240.5 487.7L241.1 487L241.7 487.5L242.3 487.2L242.8 487.5L243.4 486.3L244 487.5L244.6 486.7L245.1 486.1L245.7 486.2L246.3 485.9L246.9 486.5L247.5 486.4L248 485.6L248.6 486.1L249.2 485.1L249.8 486.2L250.3 485.7L250.9 486.1L251.5 485.1L252.1 486.6L252.6 485.3L253.2 485.1L253.8 485.7L254.4 485.1L255 486.9L255.5 487.6L256.1 486.9L256.7 486.8L257.3 486.3L257.8 487.1L258.4 487.1L259 487.1L259.6 485.7L260.1 487.5L260.7 487.2L261.3 487L261.9 486.1L262.4 488.4L263 488.8L263.6 487.6L264.2 488.3L264.8 488.2L265.3 489.3L265.9 486.6L266.5 489L267.1 487.5L267.6 487.5L268.2 487.3L268.8 486.8L269.4 488.4L269.9 489L270.5 487.8L271.1 487.4L271.7 488.2L272.3 488.3L272.8 487.2L273.4 489L274 486.5L274.6 489.6L275.1 489L275.7 488.3L276.3 489.1L276.9 487.3L277.4 488.9L278 488.8L278.6 488.6L279.2 486.7L279.8 488.2L280.3 488.5L280.9 486.5L281.5 489.5L282.1 490.2L282.6 488.2L283.2 487.5L283.8 489.8L284.4 488.6L284.9 487.5L285.5 488.6L286.1 487.6L286.7 488.3L287.3 485.4L287.8 491.1L288.4 484.6L289 492.2L289.6 487.4L290.1 486.6L290.7 482.1L291.3 485.2L291.9 492.4L292.4 487.2L293 491.1L293.6 485.5L294.2 484.1L294.8 485.4L295.3 489L295.9 487.9L296.5 492.1L297.1 487.4L297.6 494.5L298.2 489.2L298.8 489.6L299.4 491.7L299.9 486.8L300.5 487.5L301.1 483.3L301.7 488.9L302.2 487L302.8 491.7L303.4 484L304 490.2L304.6 490.5" fill="none" stroke="#0000ff" stroke-width="0.72" stroke-linejoin="round"/>
<path d="M60.6 409.1L61.1 406.7L61.7 404L62.3 404L62.9 408.9L63.5 413.8L64 416.7L64.6 423.9L65.2 427.2L65.8 430.4L66.3 435L66.9 439.1L67.5 431.2L68.1 425.6L68.6 419.1L69.2 423.3L69.8 426.6L70.4 430.5L71 437.6L71.5 437.8L72.1 440.2L72.7 440.6L73.3 442.2L73.8 439.4L74.4 441.2L75 445.7L75.6 447.5L76.1 450L76.7 446L77.3 447.8L77.9 438.2L78.5 426L79 416.4L79.6 410.9L80.2 400.9L80.8 393.6L81.3 387.9L81.9 380.8L82.5 372.3L83.1 365.3L83.6 359.2L84.2 351.1L84.8 349.1L85.4 345.7L85.9 341.2L86.5 341.3L87.1 340L87.7 339.8L88.3 340.9L88.8 344.3L89.4 347.4L90 348.9L90.6 350.2L91.1 352.3L91.7 349.8L92.3 346.6L92.9 345.7L93.4 344.4L94 342.7L94.6 339.5L95.2 348.9L95.8 354L96.3 348.5L96.9 342.8L97.5 339.6L98.1 340.4L98.6 345.3L99.2 350.9L99.8 354.9L100.4 358.8L100.9 363.6L101.5 366.1L102.1 370.4L102.7 363.4L103.3 363L103.8 360.2L104.4 359.6L105 357.3L105.6 356.5L106.1 356.7L106.7 357.7L107.3 356.4L107.9 355.6L108.4 353.1L109 354.3L109.6 353.1L110.2 350.5L110.8 355.3L111.3 353.6L111.9 355.9L112.5 360.5L113.1 355.3L113.6 355.4L114.2 352.8L114.8 350.8L115.4 348.3L115.9 349.6L116.5 348.2L117.1 347.6L117.7 361.1L118.2 374.4L118.8 373.2L119.4 367.9L120 354.9L120.6 343.8L121.1 341.6L121.7 338.2L122.3 337.8L122.9 334.4L123.4 331.7L124 331.3L124.6 330.6L125.2 329.4L125.7 328.6L126.3 328L126.9 326.8L127.5 327.4L128.1 327.3L128.6 327L129.2 326.6L129.8 326.7L130.4 327L130.9 327.2L131.5 327.7L132.1 326.9L132.7 327.3L133.2 326.6L133.8 327.3L134.4 327.9L135 327L135.6 327.3L136.1 327.5L136.7 327.3L137.3 327.4L137.9 327.3L138.4 327.9L139 329.4L139.6 327.3L140.2 327.8L140.7 327L141.3 327.4L141.9 328L142.5 326.9L143.1 327.5L143.6 327.4L144.2 327.5L144.8 326.8L145.4 327.4L145.9 327.6L146.5 327.6L147.1 327.2L147.7 327.2L148.2 327.6L148.8 327.1L149.4 327.6L150 327.3L150.6 327.2L151.1 327.3L151.7 327.3L152.3 327.3L152.9 327.6L153.4 327.3L154 327.3L154.6 327.8L155.2 327.8L155.7 327.3L156.3 331.1L156.9 329.2L157.5 327.2L158 327.3L158.6 327.5L159.2 327.2L159.8 327.6L160.4 326.8L160.9 327L161.5 327.4L162.1 327.5L162.7 327.2L163.2 327.4L163.8 327.6L164.4 327.2L165 327.3L165.5 327L166.1 327.4L166.7 326.7L167.3 326.8L167.9 327.8L168.4 327.9L169 327.6L169.6 326.8L170.2 327.1L170.7 327.2L171.3 327.2L171.9 327.6L172.5 327.2L173 327.6L173.6 327.2L174.2 327.3L174.8 328.5L175.4 327.4L175.9 327L176.5 326.6L177.1 327.7L177.7 327L178.2 327.3L178.8 326.7L179.4 326.9L180 327.5L180.5 327.2L181.1 326.8L181.7 326.7L182.3 327.4L182.9 327.5L183.4 327.1L184 326.8L184.6 326.9L185.2 327.1L185.7 327L186.3 327L186.9 327.1L187.5 327.4L188 326.9L188.6 327L189.2 326.9L189.8 327.2L190.3 327.3L190.9 326.9L191.5 326.9L192.1 326.6L192.7 327.5L193.2 327.3L193.8 327.2L194.4 326.5L195 327.8L195.5 326.8L196.1 327.3L196.7 327.4L197.3 326.8L197.8 326.9L198.4 328.1L199 327.5L199.6 327.1L200.2 327.2L200.7 326.7L201.3 327.3L201.9 327.2L202.5 327.7L203 326.9L203.6 327.1L204.2 326.8L204.8 327.3L205.3 326.5L205.9 327.3L206.5 326.5L207.1 326.5L207.7 327.3L208.2 327L208.8 327.2L209.4 327.6L210 326.9L210.5 327L211.1 326.6L211.7 326.5L212.3 327.6L212.8 327.1L213.4 326.9L214 326.8L214.6 327L215.2 327.3L215.7 327.1L216.3 326.8L216.9 327.4L217.5 327.4L218 327.4L218.6 327.2L219.2 326.6L219.8 327.1L220.3 326.8L220.9 326.6L221.5 326.6L222.1 326.9L222.7 327L223.2 327L223.8 327.1L224.4 327.2L225 326.8L225.5 326.7L226.1 327.1L226.7 327.2L227.3 327L227.8 326.9L228.4 326.7L229 326.9L229.6 326.9L230.1 327.4L230.7 327.1L231.3 327L231.9 327.1L232.5 326.8L233 326.9L233.6 327.2L234.2 326.8L234.8 326.6L235.3 326.2" fill="none" stroke="#000000" stroke-width="0.75" stroke-linejoin="round"/>
<rect x="238.5" y="299.6" width="90.95" height="65.4" fill="#fff" stroke="#6a6a6a" stroke-width="1.1"/>
<path d="M241.9 310.5H258.1" stroke="#f00" stroke-width="0.6"/>
<circle cx="249.8" cy="310.5" r="1.8" fill="#f00"/>
<text transform="translate(261.5,314) scale(1,1.0)" font-size="10">Alpha RL</text>
<path d="M241.9 332.4H258.1" stroke="#00f" stroke-width="0.6"/>
<rect x="248" y="330.6" width="3.6" height="3.6" fill="#00f"/>
<text transform="translate(261.5,335.9) scale(1,1.0)" font-size="10">X-ray RL</text>
<path d="M241.9 354.4H258.1" stroke="#000" stroke-width="0.6"/>
<rect x="248" y="352.6" width="3.6" height="3.6" fill="#000"/>
<text transform="translate(261.5,357.9) scale(1,1.0)" font-size="10">Transparency</text>
<path d="M393.18 508.85V505.25M407.6 508.85V502.15M422.02 508.85V505.25M436.44 508.85V505.25M450.86 508.85V505.25M465.28 508.85V502.15M479.7 508.85V505.25M494.12 508.85V505.25M508.54 508.85V505.25M522.96 508.85V502.15M537.38 508.85V505.25M551.8 508.85V505.25M566.22 508.85V505.25M580.64 508.85V502.15M595.06 508.85V505.25M609.48 508.85V505.25M623.9 508.85V505.25M638.32 508.85V502.15M652.74 508.85V505.25M667.16 508.85V505.25M384.75 503.4H389.15M384.75 494.95H389.15M384.75 486.5H392.95M384.75 478.05H389.15M384.75 469.6H389.15M384.75 461.15H389.15M384.75 452.7H392.95M384.75 444.25H389.15M384.75 435.8H389.15M384.75 427.35H389.15M384.75 418.9H392.95M384.75 410.45H389.15M384.75 402H389.15M384.75 393.55H389.15M384.75 385.1H392.95M384.75 376.65H389.15M384.75 368.2H389.15M384.75 359.75H389.15M384.75 351.3H392.95M384.75 342.85H389.15M384.75 334.4H389.15M384.75 325.95H389.15M384.75 317.5H392.95M384.75 309.05H389.15M384.75 300.6H389.15" stroke="#6a6a6a" stroke-width="1" fill="none"/>
<rect x="384.75" y="299.6" width="290" height="209.25" fill="none" stroke="#6a6a6a" stroke-width="1.1"/>
<g font-size="8.7" fill="#000"><text transform="translate(407.6,517.3) scale(1,1.09)" text-anchor="middle">200</text><text transform="translate(465.28,517.3) scale(1,1.09)" text-anchor="middle">400</text><text transform="translate(522.96,517.3) scale(1,1.09)" text-anchor="middle">600</text><text transform="translate(580.64,517.3) scale(1,1.09)" text-anchor="middle">800</text><text transform="translate(638.32,517.3) scale(1,1.09)" text-anchor="middle">1000</text><text transform="translate(382.9,489.8) scale(1,1.09)" text-anchor="end">0</text><text transform="translate(382.9,456) scale(1,1.09)" text-anchor="end">20</text><text transform="translate(382.9,422.2) scale(1,1.09)" text-anchor="end">40</text><text transform="translate(382.9,388.4) scale(1,1.09)" text-anchor="end">60</text><text transform="translate(382.9,354.6) scale(1,1.09)" text-anchor="end">80</text><text transform="translate(382.9,320.8) scale(1,1.09)" text-anchor="end">100</text><text transform="translate(674.9,525.9) scale(1,1.0)" text-anchor="end">Wavelength [nm]</text><text transform="translate(360,299.6) rotate(-90)" text-anchor="end">Relative L.Y. / Transparency [%]</text></g>
<text transform="translate(529.8,286.3) scale(1,1.0)" text-anchor="middle" font-size="13.2">CaF2 with 2% Eu doping</text>
<path d="M408.8 486L409.3 485.3L409.9 484.9L410.5 484.4L411.1 486.6L411.6 486.1L412.2 486.3L412.8 485.9L413.4 485.8L413.9 486.5L414.5 485.5L415.1 486.6L415.7 485.3L416.3 486.3L416.8 485.4L417.4 485.3L418 485.7L418.6 486.1L419.1 486.2L419.7 486.4L420.3 484.5L420.9 485.2L421.4 484.3L422 485.4L422.6 485.4L423.2 486L423.8 485.8L424.3 486.7L424.9 484.9L425.5 484.9L426.1 484.6L426.6 484.6L427.2 486.4L427.8 487.4L428.4 485.1L428.9 485.5L429.5 486.3L430.1 486.3L430.7 485.1L431.2 484.4L431.8 485.3L432.4 486.1L433 485L433.6 484.9L434.1 486.5L434.7 485.1L435.3 486.3L435.9 485.6L436.4 485.3L437 485.6L437.6 486.7L438.2 485.4L438.7 486.6L439.3 485.1L439.9 487L440.5 486L441.1 486L441.6 486.1L442.2 485.5L442.8 485.5L443.4 484.3L443.9 485.3L444.5 484.8L445.1 486.4L445.7 484.9L446.2 485L446.8 484.7L447.4 484.6L448 486.3L448.6 486.6L449.1 486.2L449.7 486.1L450.3 484.6L450.9 487.1L451.4 485.6L452 484.9L452.6 485.7L453.2 486.7L453.7 486.3L454.3 485.2L454.9 485.1L455.5 485.8L456.1 485.4L456.6 484.6L457.2 485.9L457.8 484.2L458.4 486.3L458.9 484.3L459.5 486.7L460.1 484.7L460.7 485.5L461.2 486.5L461.8 485.2L462.4 484.8L463 484.6L463.5 484.2L464.1 483.5L464.7 481L465.3 475.9L465.9 468.8L466.4 457.6L467 444.8L467.6 428.6L468.2 410.4L468.7 396.3L469.3 383L469.9 367.1L470.5 350.9L471 336.7L471.6 326.8L472.2 319.1L472.5 317.8L472.8 318.7L473.4 324.9L473.9 332.5L474.5 341.5L475.1 350.8L475.7 360.6L476.2 370.9L476.8 381.7L477.4 391.9L478 400.3L478.5 405.9L479.1 413.7L479.7 421L480.3 426.7L480.9 432.9L481.4 439.5L482 443.3L482.6 447.9L483.2 450.7L483.7 454.2L484.3 460.1L484.9 463.8L485.5 465.3L486 468L486.6 470L487.2 471.8L487.8 473.1L488.4 476.2L488.9 475.9L489.5 476L490.1 478L490.7 478.6L491.2 478.8L491.8 479.2L492.4 479.6L493 480.4L493.5 479.9L494.1 482L494.7 480.7L495.3 481.7L495.9 482.6L496.4 483.6L497 481.7L497.6 482.8L498.2 482.8L498.7 482.3L499.3 483.9L499.9 483.2L500.5 483.2L501 482.8L501.6 483.9L502.2 482.9L502.8 484.7L503.3 484.4L503.9 484.9L504.5 485.2L505.1 483.3L505.7 484.3L506.2 484.6L506.8 484.5L507.4 484.5L508 485.8L508.5 485L509.1 484.4L509.7 485.6L510.3 484.9L510.8 485.1L511.4 485.5L512 485.8L512.6 485.2L513.2 484.5L513.7 484.2L514.3 485.6L514.6 484.3L514.9 483.9L515.2 485.5L515.5 485.2L515.8 483.7L516 483.4L516.3 483.3L516.6 482.3L516.9 482.5L517.2 481.3L517.5 481.2L517.8 479.4L518.1 477.2L518.3 472.2L518.6 466.5L518.9 458.7L519.2 448.3L519.5 438L519.8 428.4L520.1 419.5L520.4 414.6L520.7 414.5L520.9 420.1L521.2 427.5L521.5 438.6L521.8 448.4L522.1 458.6L522.4 464.5L522.7 473.1L523 475.5L523.2 479.8L523.5 479.6L523.8 482.7L524.1 481.7L524.4 482.4L524.7 481.3L525 482.4L525.3 480.7L525.6 478.8L525.8 476.7L526.1 475.6L526.4 473.9L526.7 470.1L527 467.7L527.3 464.9L527.6 463.8L527.9 463.7L528.2 463.7L528.4 464.1L528.7 467L529 470.4L529.3 472.5L529.6 476.6L529.9 478.3L530.2 479.8L530.5 481.6L530.7 482.9L531 483.2L531.3 482.4L531.6 484.1L531.9 484L532.2 483.2L532.5 486.4L532.8 484.9L533.1 484L533.3 485.7L533.6 485L533.9 483.6L534.2 484.5L534.5 484.3L534.8 482.8L535.1 485.7L535.4 483.3L535.6 484.9L535.9 483.5L536.2 483.2L536.5 483.4L536.8 483.6L537.1 482.7L537.4 483L537.7 482.7L538 482.7L538.2 483.1L538.5 482.4L538.8 484.1L539.1 485.4L539.4 485.5L539.7 484.4L540 485.3L540.3 484.8L540.6 484.5L540.8 483.5L541.1 485.5L541.4 484.3L541.7 485.6L542 484L542.3 486.2L542.6 483.4L542.9 484.6L543.1 482.6L543.4 483.9L543.7 484.4L544 483.7L544.3 483.4L544.6 482.2L544.9 480.7L545.2 480.5L545.5 479.9L545.7 478.6L546 475.6L546.3 475.9L546.6 472.8L546.9 472L547.2 469.8L547.5 466.6L547.8 466.2L548.1 462L548.3 460.3L548.6 461L548.9 460.3L549.2 459.3L549.5 459.7L549.8 460.8L550.1 460.8L550.4 461.4L550.6 465.2L550.9 466.6L551.2 469.6L551.5 471.3L551.8 473.8L552.1 475.3L552.4 476.8L552.7 478.7L553 479.5L553.2 481.3L553.5 481.4L553.8 483.6L554.1 482.6L554.4 483.6L554.7 483.5L555.3 484.4L555.8 484.7L556.4 484.7L557 485.2L557.6 485L558.1 486.5L558.7 485.6L559.3 484.9L559.9 486.1L560.5 483.5L561 484.1L561.6 486.3L562.2 484L562.8 484.9L563.3 484.8L563.9 484.2L564.5 485.7L565.1 485L565.6 484.6L566.2 485.8L566.8 485.5L567.4 485.3L568 485.1L568.5 486.1L569.1 485.4L569.7 485.8L570.3 484.7L570.8 485.7L571.4 484.8L572 485.3L572.6 485.7L573.1 484.7L573.7 484.9L574.3 485.5L574.9 484.5L575.4 484.2L576 486.5L576.6 484.5L577.2 486.5L577.8 485L578.3 484.4L578.9 484.6L579.5 484.6L580.1 484.9L580.6 484.3L581.2 485.5L581.8 483.3L582.4 486L582.9 484.6L583.5 485.5L584.1 484.5L584.7 484.7L585.3 484.9L585.8 483.2L586.4 484.3L587 484.3L587.6 483.7L588.1 483L588.7 483.1L589.3 483.7L589.9 483.1L590.4 483.1L591 483.2L591.6 483.6L592.2 482.9L592.8 484.1L593.3 482.3L593.9 482.3L594.5 483.1L595.1 483.3L595.6 484.3L596.2 483.1L596.8 482.3L597.4 484.2L597.9 482.5L598.5 483.6L599.1 481.8L599.7 482.9L600.3 482.4L600.8 483.6L601.4 483.7L602 484.2L602.6 482.6L603.1 484L603.7 483.8L604.3 484.9L604.9 484L605.4 484.9L606 484.2L606.6 483.5L607.2 484.9L607.7 485.3L608.3 484.4L608.9 484.7L609.5 485.3L610.1 486L610.6 484.8L611.2 484.7L611.8 484.9L612.4 484.2L612.9 484.9L613.5 484.9L614.1 486.2L614.7 485.4L615.2 485.4L615.8 485.8L616.4 484.8L617 485.6L617.6 484.9L618.1 485.7L618.7 485.1L619.3 484.6L619.9 485.1L620.4 484.7L621 485.3L621.6 486.5L622.2 484.7L622.7 485.7L623.3 486.2L623.9 484.4L624.5 485.4L625.1 485.6L625.6 486.5L626.2 484.5L626.8 485.5L627.4 486.5L627.9 484.6L628.5 484.1L629.1 484.3L629.7 484L630.2 483.8L630.8 487.4L631.4 487.2L632 484.3L632.6 482.7L633.1 479.9L633.7 487.7L634.3 485.4L634.9 486.9L635.4 485.2L636 487.1L636.6 484.8L637.2 485.6L637.7 482.6L638.3 485.2L638.9 478.8L639.5 481.8L640.1 483.2L640.6 486.6L641.2 483.3L641.8 487.9L642.4 484.7L642.9 487.3L643.5 481.5L644.1 487.1L644.7 485.1L645.2 480.9L645.8 484.3L646.4 485.5L647 491.5L647.5 484.5L648.1 479.8L648.7 485.6L649.3 487.4L649.9 482.1" fill="none" stroke="#ff0000" stroke-width="0.6" stroke-linejoin="round"/>
<path d="M408.8 486.1L409.3 486.1L409.9 486.1L410.5 485.6L411.1 486.1L411.6 486.9L412.2 485.8L412.8 486.1L413.4 486.1L413.9 485.9L414.5 485.9L415.1 485.3L415.7 485.6L416.3 485.9L416.8 486.4L417.4 486.6L418 485.8L418.6 485.2L419.1 486L419.7 486.1L420.3 485.7L420.9 486.9L421.4 486.2L422 485.7L422.6 485.5L423.2 486.1L423.8 485.8L424.3 485.8L424.9 485.5L425.5 486.6L426.1 485.7L426.6 486.9L427.2 487.5L427.8 486.3L428.4 486.5L428.9 485.5L429.5 485.6L430.1 486.7L430.7 485.5L431.2 486.6L431.8 486L432.4 486.2L433 485.9L433.6 485.5L434.1 485.6L434.7 485.8L435.3 485.6L435.9 485.7L436.4 486.4L437 486.4L437.6 486.3L438.2 485.7L438.7 486.1L439.3 484.6L439.9 486.5L440.5 486.6L441.1 485.5L441.6 485.1L442.2 485.7L442.8 485.5L443.4 485.1L443.9 486L444.5 486.8L445.1 486.3L445.7 485.4L446.2 486.8L446.8 486L447.4 485.8L448 486.2L448.6 485.6L449.1 485.6L449.7 484.6L450.3 485.6L450.9 486.3L451.4 486.3L452 486.5L452.6 485.4L453.2 486.3L453.7 486L454.3 485.5L454.9 486.4L455.5 486.2L456.1 487.1L456.6 486.6L457.2 486.3L457.8 485.7L458.4 485.3L458.9 486L459.5 485.8L460.1 485.9L460.7 485.2L461.2 485.2L461.8 485.5L462.4 486.2L463 484.9L463.5 484.4L464.1 483L464.7 481.1L465.3 475.1L465.9 470.2L466.4 457.4L467 445.6L467.6 429.4L468.2 412.4L468.7 398.5L469.3 384.1L469.9 366.1L470.5 350.2L471 337.7L471.6 326.5L472.2 320.6L472.5 318.2L472.8 319.5L473.4 325.1L473.9 330.4L474.5 341.7L475.1 350.9L475.7 359.5L476.2 371.3L476.8 381.9L477.4 392L478 400.3L478.5 406.8L479.1 415.1L479.7 420.4L480.3 426.7L480.9 431.2L481.4 438.3L482 443.3L482.6 448.7L483.2 451.9L483.7 455.4L484.3 458.4L484.9 464.3L485.5 465.4L486 467.6L486.6 469L487.2 471.4L487.8 473.7L488.4 475.9L488.9 477.1L489.5 477L490.1 478.1L490.7 477.5L491.2 479.9L491.8 480.1L492.4 481.6L493 481.3L493.5 481.3L494.1 481.4L494.7 481.4L495.3 482.5L495.9 483.4L496.4 482.7L497 482.9L497.6 483.1L498.2 484L498.7 483.2L499.3 484L499.9 483.7L500.5 483.5L501 484L501.6 484.3L502.2 483.4L502.8 484.6L503.3 485L503.9 484.8L504.5 484L505.1 484.9L505.7 484.7L506.2 484.3L506.8 485.4L507.4 486.1L508 485L508.5 485L509.1 485.6L509.7 484.7L510.3 484.9L510.8 485.9L511.4 485L512 485.5L512.6 486.2L513.2 485.1L513.7 485.3L514.3 485.7L514.6 484.9L514.9 484.9L515.2 485.5L515.5 484.9L515.8 484.5L516 485.4L516.3 484.7L516.6 484.8L516.9 483.3L517.2 485.4L517.5 483.4L517.8 483.1L518.1 481.7L518.3 478.6L518.6 476.9L518.9 472L519.2 469.2L519.5 463.9L519.8 459.7L520.1 455.9L520.4 453.3L520.7 453.5L520.9 455.4L521.2 460.6L521.5 462.9L521.8 469L522.1 472.2L522.4 477.5L522.7 479.5L523 479.7L523.2 483.4L523.5 484.6L523.8 484.5L524.1 484.1L524.4 484L524.7 483.6L525 484.2L525.3 484.6L525.6 483.4L525.8 481.7L526.1 481.2L526.4 481.6L526.7 479.3L527 477.4L527.3 476L527.6 476.3L527.9 476.2L528.2 477.4L528.4 477.8L528.7 478.3L529 479.1L529.3 480.2L529.6 482L529.9 483.3L530.2 483.9L530.5 484.7L530.7 484.1L531 486.2L531.3 485.3L531.6 485L531.9 484.4L532.2 485.3L532.5 484.8L532.8 485.7L533.1 485.9L533.3 485.9L533.6 484.5L533.9 484.8L534.2 485.1L534.5 483.4L534.8 485.3L535.1 484.9L535.4 485L535.6 485.2L535.9 483.7L536.2 484.1L536.5 485.7L536.8 485.1L537.1 484.5L537.4 484.3L537.7 485.6L538 486.2L538.2 486L538.5 485L538.8 485.1L539.1 484.9L539.4 485.6L539.7 486L540 486.5L540.3 485.2L540.6 485.2L540.8 484.8L541.1 485L541.4 485.6L541.7 484.7L542 485.5L542.3 485.8L542.6 485.7L542.9 485.7L543.1 486.5L543.4 485.1L543.7 484.9L544 485.1L544.3 485.1L544.6 484.2L544.9 483.1L545.2 483.7L545.5 483.5L545.7 483L546 482L546.3 482L546.6 480.5L546.9 479.5L547.2 477.5L547.5 477.1L547.8 476.1L548.1 476.3L548.3 474.8L548.6 475.3L548.9 474.1L549.2 473.9L549.5 474.7L549.8 473.4L550.1 474.8L550.4 477L550.6 476.4L550.9 477.9L551.2 478.6L551.5 479.3L551.8 480.2L552.1 482.5L552.4 482.7L552.7 482.2L553 482.5L553.2 482.6L553.5 483.1L553.8 485.7L554.1 484.3L554.4 486.1L554.7 484.1L555.3 485.2L555.8 486.1L556.4 484.3L557 485.2L557.6 486.7L558.1 485.5L558.7 486.1L559.3 485.6L559.9 486L560.5 484.9L561 486.5L561.6 485.5L562.2 484.6L562.8 486.2L563.3 485.6L563.9 485.6L564.5 486.2L565.1 485.4L565.6 485.7L566.2 486.3L566.8 484.7L567.4 485.3L568 485.9L568.5 486.1L569.1 486.2L569.7 485L570.3 485.8L570.8 485.5L571.4 485.8L572 485.3L572.6 485.8L573.1 485.2L573.7 485.8L574.3 485.2L574.9 485.2L575.4 485.7L576 486.1L576.6 486.1L577.2 485.9L577.8 486L578.3 484.9L578.9 485.4L579.5 484.4L580.1 483.9L580.6 485.2L581.2 486L581.8 485.2L582.4 485L582.9 485.7L583.5 484.9L584.1 484.5L584.7 484.8L585.3 484.9L585.8 484.8L586.4 483.2L587 484.3L587.6 484.6L588.1 484.2L588.7 483.3L589.3 484.2L589.9 483.4L590.4 483.2L591 483.1L591.6 482.6L592.2 483.7L592.8 482.7L593.3 483.8L593.9 483.5L594.5 482.6L595.1 482.8L595.6 483.3L596.2 484L596.8 483L597.4 483.7L597.9 484L598.5 483.9L599.1 483.4L599.7 484.9L600.3 483.5L600.8 483.7L601.4 484.2L602 483.4L602.6 483.7L603.1 484.5L603.7 484.7L604.3 484L604.9 485.4L605.4 484.8L606 485.1L606.6 484.7L607.2 484.7L607.7 484.9L608.3 484.4L608.9 485L609.5 485.4L610.1 486L610.6 484.9L611.2 485.1L611.8 484.6L612.4 485.9L612.9 485.5L613.5 485.6L614.1 485.6L614.7 485.6L615.2 486.7L615.8 485.2L616.4 485.3L617 485L617.6 484.4L618.1 485.9L618.7 485.8L619.3 485.8L619.9 484.6L620.4 486.8L621 485.5L621.6 486.7L622.2 487.3L622.7 487L623.3 486.6L623.9 485.2L624.5 486.4L625.1 486L625.6 486.6L626.2 485.4L626.8 486.7L627.4 484.7L627.9 486.7L628.5 486.5L629.1 485.7L629.7 485.8L630.2 484.4L630.8 485.7L631.4 487.1L632 486.4L632.6 486.5L633.1 485L633.7 485.4L634.3 486L634.9 484.7L635.4 486.5L636 486L636.6 485.6L637.2 483.6L637.7 486L638.3 486.4L638.9 487.4L639.5 484.7L640.1 486.8L640.6 485.2L641.2 489.1L641.8 484L642.4 488.2L642.9 487.2L643.5 483.9L644.1 488.3L644.7 486L645.2 485.7L645.8 487.8L646.4 483.1L647 482.7L647.5 490L648.1 488.9L648.7 484.1L649.3 488.7L649.9 486.7" fill="none" stroke="#0000ff" stroke-width="0.72" stroke-linejoin="round"/>
<path d="M406.7 361.9L407.2 359.4L407.6 359L408 358.7L408.5 360.8L408.9 361.6L409.3 361L409.8 359.1L410.2 358.1L410.6 359.4L411.1 361.6L411.5 358.4L411.9 362.6L412.4 361.5L412.8 361.9L413.2 361.2L413.7 360.5L414.1 363.8L414.5 361.6L415 360.2L415.4 361.4L415.8 359.4L416.3 358.4L416.7 359.7L417.1 359L417.5 356.9L418 356.8L418.4 355.9L418.8 353.1L419.3 354.5L419.7 354.8L420.1 356L420.6 353.6L421 355.5L421.4 352.2L421.9 352.4L422.3 358L422.7 359.4L423.2 355.5L423.6 353.8L424 354.7L424.5 354.4L424.9 351.8L425.3 353.2L425.8 354.2L426.2 352.4L426.6 350.7L427.1 349.6L427.5 351.4L427.9 351.7L428.4 352.2L428.8 351.7L429.2 350.2L429.7 349.1L430.1 349L430.5 350.7L431 349.1L431.4 349.1L431.8 349.4L432.3 352.9L432.7 351.8L433.1 353.2L433.6 349.7L434 350.8L434.4 349.6L434.9 349.7L435.3 348.2L435.7 348.7L436.2 348.2L436.6 347.4L437 347.9L437.4 347.9L437.9 349.1L438.3 348.4L438.7 345.6L439.2 348.1L439.6 347.4L440 347.9L440.5 349.3L440.9 354.5L441.3 350.5L441.8 356.3L442.2 354.6L442.6 348.9L443.1 352.7L443.5 349.9L443.9 350.8L444.4 352.6L444.8 349.7L445.2 351.6L445.7 350.5L446.1 349.8L446.5 347.2L447 344L447.4 347.3L447.8 343.4L448.3 344.5L448.7 344L449.1 345.8L449.6 344.7L450 343.7L450.4 342L450.9 342.6L451.3 342.1L451.7 341.8L452.2 344.4L452.6 340.7L453 343L453.5 341.9L453.9 343.1L454.3 342.6L454.8 342.2L455.2 346L455.6 340.7L456.1 343.1L456.5 342L456.9 343.2L457.3 343.5L457.8 345.8L458.2 346.8L458.6 348.8L459.1 344.4L459.5 341.6L459.9 345.9L460.4 344.2L460.8 343.7L461.2 341.6L461.7 341.4L462.1 342.8L462.5 344.4L463 346.4L463.4 352.6L463.8 357.1L464.3 354.5L464.7 350.4L465.1 346L465.6 342.2L466 341.7L466.4 341.7L466.9 341.5L467.3 341.8L467.7 341.5L468.2 341.2L468.6 341L469 341L469.5 340.4L469.9 340.7L470.3 340.3L470.8 340.3L471.2 340.4L471.6 340.5L472.1 340.4L472.5 340.6L472.9 340.8L473.4 340.6L473.8 340.6L474.2 340.5L474.7 340.6L475.1 340.7L475.5 340.3L476 340L476.4 340.6L476.8 340.8L477.2 340.4L477.7 340.6L478.1 340.5L478.5 340.6L479 340.2L479.4 340.1L479.8 339.6L480.3 340.4L480.7 340.5L481.1 340.1L481.6 340.1L482 339.7L482.4 339.7L482.9 340.2L483.3 340.5L483.7 339.8L484.2 340.1L484.6 339.6L485 339.9L485.5 339.9L485.9 340.2L486.3 339.9L486.8 339.5L487.2 340L487.6 339.7L488.1 339.9L488.5 339.5L488.9 339.7L489.4 339.6L489.8 339.6L490.2 339.9L490.7 339.9L491.1 339.3L491.5 339.7L492 339.8L492.4 339.7L492.8 339.1L493.3 339.5L493.7 339.2L494.1 340L494.6 338.9L495 339.4L495.4 339.1L495.9 339.5L496.3 339.4L496.7 339.2L497.1 338.9L497.6 339.3L498 339.5L498.4 339.1L498.9 338.8L499.3 339.6L499.7 339.5L500.2 339.1L500.6 339.4L501 339.8L501.5 339.2L501.9 339.1L502.3 339L502.8 338.8L503.2 339.5L503.6 339.3L504.1 339.2L504.5 339L504.9 339.3L505.4 339.1L505.8 339.3L506.2 338.9L506.7 338.7L507.1 339.2L507.5 338.9L508 339.3L508.4 338.9L508.8 339.3L509.3 338.9L509.7 338.7L510.1 338.7L510.6 339.4L511 338.9L511.4 339L511.9 338.5L512.3 338.8L512.7 338.5L513.2 339L513.6 339.1L514 339.4L514.5 338.7L514.9 338.9L515.3 338.7L515.8 338.8L516.2 338.7L516.6 338.4L517 339L517.5 338.6L517.9 338.4L518.3 338.5L518.8 338.2L519.2 338.7L519.6 338.6L520.1 338.7L520.5 338.7L520.9 338.1L521.4 339L521.8 338.7L522.2 338.7L522.7 338.6L523.1 338.6L523.5 338.4L524 338.4L524.4 338.1L524.8 338.3L525.3 338.8L525.7 338.9L526.1 338.6L526.6 338.7L527 338.6L527.4 338.2L527.9 338.4L528.3 338.8L528.7 338.7L529.2 338.1L529.6 338.8L530 338.3L530.5 338.2L530.9 338.8L531.3 338.8L531.8 338.4L532.2 338.4L532.6 338.2L533.1 338.3L533.5 338.7L533.9 337.9L534.4 338.3L534.8 338.4L535.2 338.3L535.6 338.8L536.1 338.6L536.5 338.2L536.9 338.2L537.4 338.5L537.8 338.3L538.2 338.5L538.7 338.5L539.1 338.4L539.5 338.6L540 338.5L540.4 338.3L540.8 338.3L541.3 338.3L541.7 338.3L542.1 338.2L542.6 338.2L543 338.2L543.4 338.3L543.9 338.3L544.3 338L544.7 338.1L545.2 338.3L545.6 338.4L546 338.4L546.5 338.5L546.9 337.8L547.3 338.4L547.8 337.9L548.2 338.2L548.6 338L549.1 338.3L549.5 338.2L549.9 337.9L550.4 337.7L550.8 338.1L551.2 337.8L551.7 337.9L552.1 337.9L552.5 338L553 338.1L553.4 337.5L553.8 338.2L554.3 337.9L554.7 338.1L555.1 338L555.5 338.2L556 338.2L556.4 338.1L556.8 337.8L557.3 338.3L557.7 337.7L558.1 338L558.6 337.9L559 338.2L559.4 337.7L559.9 338L560.3 337.9L560.7 338.4L561.2 337.5L561.6 337.8L562 338.2L562.5 338.1L562.9 337.9L563.3 338.2L563.8 338.3L564.2 338L564.6 337.6L565.1 337.8L565.5 337.8L565.9 338.1L566.4 337.5L566.8 338.2L567.2 338.1L567.7 338.2L568.1 337.8L568.5 338.1L569 337.9L569.4 337.7L569.8 338.3L570.3 338.1L570.7 337.7L571.1 337.8L571.6 337.9L572 337.9L572.4 338L572.9 337.8L573.3 337.6L573.7 338L574.2 338L574.6 338.2L575 337.9L575.4 337.5L575.9 338L576.3 337.9L576.7 337.5L577.2 338L577.6 337.9L578 337.8L578.5 337.8L578.9 337.3L579.3 337.8L579.8 337.4L580.2 337.6L580.6 337.3" fill="none" stroke="#000000" stroke-width="0.75" stroke-linejoin="round"/>
<rect x="583.8" y="299.6" width="90.95" height="65.4" fill="#fff" stroke="#6a6a6a" stroke-width="1.1"/>
<path d="M587.2 310.5H603.4" stroke="#f00" stroke-width="0.6"/>
<circle cx="595.1" cy="310.5" r="1.8" fill="#f00"/>
<text transform="translate(606.8,314) scale(1,1.0)" font-size="10">Alpha RL</text>
<path d="M587.2 332.4H603.4" stroke="#00f" stroke-width="0.6"/>
<rect x="593.3" y="330.6" width="3.6" height="3.6" fill="#00f"/>
<text transform="translate(606.8,335.9) scale(1,1.0)" font-size="10">X-ray RL</text>
<path d="M587.2 354.4H603.4" stroke="#000" stroke-width="0.6"/>
<rect x="593.3" y="352.6" width="3.6" height="3.6" fill="#000"/>
<text transform="translate(606.8,357.9) scale(1,1.0)" font-size="10">Transparency</text>
<path d="M47.88 781.85V778.25M62.3 781.85V775.15M76.72 781.85V778.25M91.14 781.85V778.25M105.56 781.85V778.25M119.98 781.85V775.15M134.4 781.85V778.25M148.82 781.85V778.25M163.24 781.85V778.25M177.66 781.85V775.15M192.08 781.85V778.25M206.5 781.85V778.25M220.92 781.85V778.25M235.34 781.85V775.15M249.76 781.85V778.25M264.18 781.85V778.25M278.6 781.85V778.25M293.02 781.85V775.15M307.44 781.85V778.25M321.86 781.85V778.25M39.45 775.78H43.85M39.45 767.72H43.85M39.45 759.66H43.85M39.45 751.6H47.65M39.45 743.54H43.85M39.45 735.48H43.85M39.45 727.42H43.85M39.45 719.36H47.65M39.45 711.3H43.85M39.45 703.24H43.85M39.45 695.18H43.85M39.45 687.12H47.65M39.45 679.06H43.85M39.45 671H43.85M39.45 662.94H43.85M39.45 654.88H47.65M39.45 646.82H43.85M39.45 638.76H43.85M39.45 630.7H43.85M39.45 622.64H47.65M39.45 614.58H43.85M39.45 606.52H43.85M39.45 598.46H43.85M39.45 590.4H47.65M39.45 582.34H43.85M39.45 574.28H43.85" stroke="#6a6a6a" stroke-width="1" fill="none"/>
<rect x="39.45" y="572.6" width="290" height="209.25" fill="none" stroke="#6a6a6a" stroke-width="1.1"/>
<g font-size="8.7" fill="#000"><text transform="translate(62.3,790.3) scale(1,1.09)" text-anchor="middle">200</text><text transform="translate(119.98,790.3) scale(1,1.09)" text-anchor="middle">400</text><text transform="translate(177.66,790.3) scale(1,1.09)" text-anchor="middle">600</text><text transform="translate(235.34,790.3) scale(1,1.09)" text-anchor="middle">800</text><text transform="translate(293.02,790.3) scale(1,1.09)" text-anchor="middle">1000</text><text transform="translate(37.6,754.9) scale(1,1.09)" text-anchor="end">0</text><text transform="translate(37.6,722.66) scale(1,1.09)" text-anchor="end">20</text><text transform="translate(37.6,690.42) scale(1,1.09)" text-anchor="end">40</text><text transform="translate(37.6,658.18) scale(1,1.09)" text-anchor="end">60</text><text transform="translate(37.6,625.94) scale(1,1.09)" text-anchor="end">80</text><text transform="translate(37.6,593.7) scale(1,1.09)" text-anchor="end">100</text><text transform="translate(329.6,798.9) scale(1,1.0)" text-anchor="end">Wavelength [nm]</text><text transform="translate(14.7,572.6) rotate(-90)" text-anchor="end">Relative L.Y. / Transparency [%]</text></g>
<text transform="translate(184.5,559.3) scale(1,1.0)" text-anchor="middle" font-size="13.2">CaF2 with 3% Eu doping</text>
<path d="M63.5 743.1L63.7 736.3L64 741.7L64.3 746.9L64.6 750.6L64.9 749.1L65.2 749.6L65.5 751.6L65.8 748.6L66 751.4L66.3 752.9L66.6 751.6L66.9 752.1L67.2 751.6L67.5 749.5L67.8 751L68.1 748.1L68.4 751.2L68.6 749.8L68.9 750.7L69.2 753.6L69.5 750.6L69.8 750.1L70.1 749.1L70.4 752.7L70.7 749.1L71 748.7L71.2 752L71.5 750.1L71.8 748.6L72.1 753.5L72.4 749.9L72.7 754L73 750.4L73.3 748.2L73.5 751.2L73.8 749.7L74.1 753.3L74.4 751.7L74.7 751.4L75 749.3L75.3 751.1L75.6 749.4L75.9 750.8L76.1 751.8L76.4 750.4L76.7 750.3L77 751.1L77.3 749.4L77.6 752L77.9 750.3L78.2 749.7L78.5 751.6L78.7 750.7L79 750.8L79.3 753L79.6 748.2L79.9 751.2L80.2 749.8L80.5 755.7L80.8 749L81 751.8L81.3 752.7L81.6 751.4L81.9 749.6L82.2 754L82.5 749.6L82.8 753.4L83.1 749.4L83.4 750.7L83.6 749.3L83.9 749.9L84.2 752.6L84.5 751.8L84.8 750.3L85.1 751.7L85.4 751.2L85.7 752.8L85.9 750L86.2 747L86.5 749.4L86.8 750.4L87.1 752.8L87.4 751.4L87.7 749.1L88 751.1L88.3 750L88.5 751.7L88.8 751.7L89.1 750.8L89.4 751.9L89.7 752.1L90 750.8L90.3 751.6L90.6 754.5L90.9 750.1L91.1 748.8L91.4 750.8L91.7 752L92 753L92.3 752.5L92.6 751.5L92.9 749.8L93.2 751.2L93.4 751.6L93.7 753L94 751.2L94.3 752.6L94.6 748.4L94.9 750.7L95.2 751.4L95.5 748.4L95.8 748.4L96 751.1L96.3 753.3L96.6 749.3L96.9 751.9L97.2 750.1L97.5 752.8L97.8 751.8L98.1 751.7L98.3 752.6L98.6 752.9L98.9 749.6L99.2 751.8L99.5 749.2L99.8 750.2L100.1 750.9L100.4 750.2L100.7 751.7L100.9 751.3L101.2 750.7L101.5 750.8L101.8 752.2L102.1 749.8L102.4 750.6L102.7 748.7L103 752L103.3 747.3L103.5 750.9L103.8 749.4L104.1 750.2L104.4 753.4L104.7 751.5L105 749.2L105.3 748.8L105.6 751.3L105.8 748.6L106.1 749.2L106.4 751.8L106.7 748.8L107 750.9L107.3 753.1L107.6 750L107.9 750.8L108.2 751.6L108.4 752.8L108.7 751.8L109 749.1L109.3 751.8L109.6 752.8L109.9 752.6L110.2 749.4L110.5 748.5L110.8 752.7L111 751.9L111.3 749.9L111.6 749.5L111.9 751.8L112.2 750.4L112.5 748.3L112.8 751.9L113.1 751.5L113.3 750.8L113.6 750.2L113.9 751L114.2 752.8L114.5 751L114.8 749.6L115.1 752.5L115.4 752.2L115.7 751.8L115.9 748L116.2 751L116.5 752.2L116.8 748.5L117.1 748.9L117.4 751L117.7 749.8L118 749.6L118.2 748.6L118.5 749.4L118.8 748.1L119.1 748.1L119.4 745.9L119.7 743.1L120 740.8L120.3 738.8L120.6 737.9L120.8 728.9L121.1 723.7L121.4 717.7L121.7 709.1L122 703.5L122.3 696L122.6 687.3L122.9 682.4L123.2 673.8L123.4 668.6L123.7 662.6L124 654.2L124.3 644.9L124.6 637.8L124.9 630.9L125.2 623.5L125.5 619.2L125.7 611.7L126 606.2L126.3 601.2L126.6 599.8L126.9 599.2L127.2 593.4L127.5 596.5L127.8 599.8L128.1 601.2L128.3 605.5L128.6 607.6L128.9 613L129.2 619.3L129.5 622L129.8 625.8L130.1 628.4L130.4 636.8L130.7 641L130.9 648.2L131.2 652.1L131.5 658.9L131.8 660.6L132.1 663.9L132.4 670.3L132.7 670.5L133 675.1L133.2 679.7L133.5 682.3L133.8 687.8L134.1 688.8L134.4 691.4L134.7 696.6L135 696.9L135.3 700.8L135.6 703.6L135.8 706.1L136.1 707.7L136.4 711.2L136.7 711.6L137 712.4L137.3 716.4L137.6 719L137.9 719.5L138.1 724L138.4 724.3L138.7 726.4L139 725.9L139.3 728.3L139.6 730.1L139.9 735.1L140.2 732.5L140.5 733.2L140.7 736.5L141 732.5L141.3 735.5L141.6 733.8L141.9 737.4L142.2 741.6L142.5 737.6L142.8 740.8L143.1 740.8L143.3 740.2L143.6 743.8L143.9 741.1L144.2 744.2L144.5 741.3L144.8 742.5L145.1 743.7L145.4 744.1L145.6 743.7L145.9 745L146.2 748.3L146.5 744.2L146.8 744.9L147.1 744.9L147.4 746.1L147.7 745L148 744.8L148.2 745.3L148.5 749.3L148.8 747.3L149.1 745.8L149.4 747.2L149.7 745.4L150 747.3L150.3 745.3L150.6 749.6L150.8 747.6L151.1 745.7L151.4 750.5L151.7 748.5L152 746L152.3 748.4L152.6 748.3L152.9 748.1L153.1 749.5L153.4 749.3L153.7 746.6L154 748.1L154.3 750.2L154.6 749.4L154.9 750.5L155.2 747.3L155.5 749L155.7 748.8L156 748.4L156.3 751.1L156.6 748.3L156.9 749.3L157.2 748.5L157.5 750.6L157.8 750.1L158 751.6L158.3 750.4L158.6 750.7L158.9 746.7L159.2 749.2L159.5 749.7L159.8 749L160.1 749.4L160.4 750.9L160.6 749.6L160.9 750.2L161.2 753.9L161.5 750.8L161.8 749.4L162.1 749.1L162.4 746.6L162.7 748.5L163 752.5L163.2 748.1L163.5 749.7L163.8 749.7L164.1 751L164.4 748.3L164.7 748L165 750.9L165.3 748.3L165.5 750.6L165.8 750.1L166.1 747.2L166.4 749.2L166.7 749.3L167 751.9L167.3 750L167.6 748.1L167.9 750.2L168.1 750.1L168.4 749.1L168.7 750.7L169 751.6L169.3 749.1L169.6 747.7L169.9 747.6L170.2 750.8L170.4 748.1L170.7 744.8L171 748.4L171.3 745.9L171.6 744.1L171.9 743.7L172.2 740.1L172.5 736.6L172.8 729.7L173 720L173.3 708.6L173.6 687L173.9 667.7L174.2 643.4L174.5 623.6L174.8 602.1L175.1 590.5L175.4 591.4L175.6 600.1L175.9 619L176.2 641.6L176.5 666.6L176.8 689.5L177.1 705.3L177.4 719.3L177.7 729.4L177.9 733.9L178.2 741.7L178.5 738.4L178.8 738.9L179.1 736.4L179.4 736.1L179.7 732.7L180 725.2L180.3 726.2L180.5 716.3L180.8 712L181.1 706.5L181.4 702.1L181.7 700.7L182 697.3L182.3 695.5L182.6 698.8L182.9 700.6L183.1 708.2L183.4 713.1L183.7 719.9L184 723L184.3 729.3L184.6 733.2L184.9 738.1L185.2 736.9L185.4 743.7L185.7 746.6L186 746L186.3 746.8L186.6 747.8L186.9 748.9L187.2 748.8L187.5 748.7L187.8 750.4L188 749.8L188.3 749.7L188.6 746.8L188.9 750.6L189.2 746.6L189.5 748L189.8 747.4L190.1 744.6L190.3 745.4L190.6 748.6L190.9 748.5L191.2 749.5L191.5 746.5L191.8 745.2L192.1 744.6L192.4 747.5L192.7 747.3L192.9 744L193.2 747.1L193.5 747.5L193.8 745.3L194.1 748.7L194.4 748.1L194.7 748.9L195 747.9L195.3 748.5L195.5 748.6L195.8 749.1L196.1 748.9L196.4 747.3L196.7 749.4L197 747.5L197.3 746.4L197.6 746.4L197.8 745.5L198.1 745.5L198.4 745.2L198.7 743.2L199 740.2L199.3 738.9L199.6 736.2L199.9 733.9L200.2 733.6L200.4 729.5L200.7 724.8L201 719.7L201.3 712.4L201.6 708.2L201.9 699.9L202.2 696.6L202.5 693.3L202.8 687.8L203 687.2L203.3 684.7L203.6 686.8L203.9 685.8L204.2 689L204.5 694L204.8 696L205.1 701.3L205.3 706.7L205.6 714.1L205.9 718.9L206.2 720.1L206.5 727.2L206.8 731.7L207.1 733.4L207.4 736.6L207.7 741.7L207.9 741.4L208.2 744.6L208.5 744.9L208.8 746L209.1 750.1L209.4 748.7L209.7 748.9L210 748.9L210.2 749.9L210.5 747.5L210.8 747.9L211.1 752L211.4 750.8L211.7 750.2L212 749.2L212.3 750.1L212.6 749.9L212.8 750.4L213.1 746L213.4 750.9L213.7 749L214 749.4L214.3 750.2L214.6 749.8L214.9 752.4L215.2 749.5L215.4 750.5L215.7 751.5L216 749.8L216.3 749.3L216.6 750.2L216.9 749.9L217.2 749.9L217.5 751L217.7 752.5L218 752.4L218.3 748.6L218.6 749L218.9 752.8L219.2 750L219.5 749.1L219.8 750.2L220.1 750.1L220.3 748.6L220.6 750.6L220.9 751.4L221.2 752L221.5 750.5L221.8 750.2L222.1 750.9L222.4 749L222.7 749.5L222.9 750.1L223.2 750.1L223.5 750.8L223.8 751.7L224.1 751.4L224.4 751L224.7 752.4L225 754.9L225.2 747.5L225.5 750.2L225.8 752L226.1 749L226.4 752.6L226.7 749L227 750.7L227.3 750L227.6 748.9L227.8 751.4L228.1 751.8L228.4 749.1L228.7 749.5L229 750L229.3 750.3L229.6 750.9L229.9 751.4L230.1 747.8L230.4 752.1L230.7 750.4L231 751.1L231.3 750.1L231.6 748.6L231.9 751.8L232.2 750.9L232.5 749.4L232.7 750.2L233 748.9L233.3 750.9L233.6 753.4L233.9 750.4L234.2 749.9L234.5 748.6L234.8 750.7L235.1 750.9L235.3 752.1L235.6 748.8L235.9 749.2L236.2 752.1L236.5 749.7L236.8 750L237.1 748L237.4 748.8L237.6 749.6L237.9 750L238.2 751.1L238.5 748.5L238.8 749.6L239.1 749.1L239.4 751.1L239.7 749.8L240 750L240.2 749.5L240.5 749.2L240.8 748.7L241.1 749.9L241.4 749.1L241.7 751.9L242 748.7L242.3 749.8L242.6 748.5L242.8 749.5L243.1 750.8L243.4 748.7L243.7 746.7L244 748.4L244.3 749.2L244.6 748.6L244.9 749.4L245.1 749.8L245.4 747.2L245.7 747.1L246 748.2L246.3 748.8L246.6 743.3L246.9 747.1L247.2 747.4L247.5 748.6L247.7 749.4L248 747.7L248.3 748.8L248.6 747.4L248.9 749L249.2 746.8L249.5 746.3L249.8 747.9L250 746.4L250.3 745.9L250.6 749.8L250.9 748.6L251.2 749.6L251.5 746.6L251.8 747.8L252.1 747.6L252.4 750.4L252.6 746.4L252.9 748L253.2 748.8L253.5 749.9L253.8 749.3L254.1 747.8L254.4 748.6L254.7 748.2L255 747.9L255.2 748.6L255.5 747.1L255.8 745.1L256.1 749.2L256.4 748.9L256.7 748.6L257 747.1L257.3 748.6L257.5 748.7L257.8 748.4L258.1 748.8L258.4 749.1L258.7 747L259 748.4L259.3 747.5L259.6 750.3L259.9 747.8L260.1 750.7L260.4 749.3L260.7 752.2L261 752.4L261.3 752.7L261.6 752.4L261.9 751.9L262.2 749.8L262.4 751.2L262.7 748.4L263 755.8L263.3 748.8L263.6 752.9L263.9 749.7L264.2 749.9L264.5 751L264.8 748L265 749.7L265.3 749.5L265.6 748L265.9 749.7L266.2 747.5L266.5 751.8L266.8 749.7L267.1 750.6L267.4 756.6L267.6 751L267.9 747.5L268.2 753.8L268.5 746.1L268.8 750.5L269.1 750L269.4 747.1L269.7 753L269.9 751.4L270.2 750.5L270.5 752L270.8 747.8L271.1 752.3L271.4 751.4L271.7 751.4L272 749.3L272.3 750L272.5 749L272.8 753.9L273.1 748.6L273.4 750.1L273.7 752.3L274 749L274.3 752.3L274.6 746.4L274.9 749.8L275.1 744.6L275.4 755.3L275.7 759L276 750.4L276.3 747.6L276.6 752.8L276.9 753.7L277.2 755.5L277.4 750.3L277.7 751.9L278 751.3L278.3 750.4L278.6 747L278.9 749.7L279.2 750.1L279.5 750.1L279.8 749L280 750.9L280.3 749.2L280.6 754.7L280.9 755L281.2 748.9L281.5 752.1L281.8 752.4L282.1 742.6L282.3 754.5L282.6 750.1L282.9 755L283.2 751.7L283.5 751.5L283.8 755.3L284.1 746.9L284.4 756.4L284.7 756.7L284.9 747.4L285.2 741L285.5 748.6L285.8 750.1L286.1 750.5L286.4 751.5L286.7 744.2L287 751.1L287.3 751.3L287.5 746L287.8 746.6L288.1 747.8L288.4 746L288.7 744.7L289 745.3L289.3 752.7L289.6 758.3L289.8 746.6L290.1 747.2L290.4 752.7L290.7 754.3L291 762.3L291.3 752.1L291.6 752.8L291.9 748.8L292.2 752.8L292.4 753.4L292.7 747.9L293 757.1L293.3 744.4L293.6 748L293.9 746L294.2 759.4L294.5 746.2L294.8 755.6L295 748.6L295.3 749.5L295.6 744L295.9 750L296.2 754.9L296.5 751.4L296.8 754.7L297.1 749.8L297.3 748.7L297.6 749.9L297.9 745.4L298.2 752.1L298.5 744.7L298.8 755.7L299.1 758L299.4 746.9L299.7 750.6L299.9 758.7L300.2 761.2L300.5 745.5L300.8 745.3L301.1 742.2L301.4 738.6L301.7 740.9L302 751.6L302.2 760.9L302.5 754.6L302.8 747.8L303.1 755.1L303.4 744.6L303.7 755L304 749.4L304.3 748.5L304.6 751.3L304.8 750.7" fill="none" stroke="#ff0000" stroke-width="0.6" stroke-linejoin="round"/>
<path d="M63.5 751L64 751.1L64.6 751.2L65.2 751.7L65.8 750.7L66.3 751.3L66.9 750.9L67.5 751.3L68.1 750.6L68.6 751.1L69.2 750.9L69.8 750.7L70.4 751.2L71 751.2L71.5 751.2L72.1 751.1L72.7 750.8L73.3 751L73.8 751.1L74.4 750.7L75 751L75.6 751.6L76.1 750.5L76.7 751.9L77.3 750.2L77.9 751.8L78.5 751.7L79 751.4L79.6 750.7L80.2 751.5L80.8 750.7L81.3 750.7L81.9 751.4L82.5 751.2L83.1 750.9L83.6 750.9L84.2 751.4L84.8 751.9L85.4 751.4L85.9 751.5L86.5 751.1L87.1 751.1L87.7 751.4L88.3 751.6L88.8 751.4L89.4 751L90 750.9L90.6 750.9L91.1 750.7L91.7 750.6L92.3 751.3L92.9 750.5L93.4 751.7L94 750.9L94.6 751.1L95.2 751.9L95.8 750.4L96.3 750.1L96.9 750.6L97.5 751.8L98.1 752.2L98.6 750.8L99.2 751L99.8 751.4L100.4 751.5L100.9 752L101.5 751.1L102.1 752.1L102.7 751.8L103.3 751.2L103.8 750.5L104.4 750.8L105 750.6L105.6 750.5L106.1 750.7L106.7 751.4L107.3 751L107.9 751L108.4 751.4L109 751.1L109.6 751.2L110.2 751.8L110.8 751.8L111.3 751.1L111.9 750.8L112.5 750.7L113.1 750.5L113.6 750.9L114.2 751L114.8 751.3L115.4 751.6L115.9 752.3L116.5 750.9L117.1 750.4L117.7 750.5L118.2 748.8L118.8 747.8L119.4 745.7L120 741.1L120.6 734.3L121.1 722.4L121.7 711.7L122.3 694.5L122.9 677.8L123.4 667L124 651.9L124.6 635.6L125.2 620.7L125.7 607.5L126.3 599.6L126.9 593.9L127.2 590.4L127.5 594.1L128.1 599.4L128.6 605.9L129.2 615.4L129.8 624.1L130.4 634.4L130.9 644.4L131.5 654.2L132.1 664.1L132.7 670.8L133.2 677.5L133.8 684.7L134.4 690.6L135 696.3L135.6 701.2L136.1 707L136.7 713.2L137.3 715.3L137.9 718.6L138.4 722.6L139 726L139.6 730.6L140.2 731.7L140.7 734L141.3 736.2L141.9 737.4L142.5 739.6L143.1 741.7L143.6 742.1L144.2 742.6L144.8 743.7L145.4 744.1L145.9 745.4L146.5 746.6L147.1 745.5L147.7 746.3L148.2 746.6L148.8 748L149.4 747.6L150 747.2L150.6 748.2L151.1 748.7L151.7 747.4L152.3 748.6L152.9 748.6L153.4 749.1L154 748.6L154.6 749.2L155.2 749.8L155.7 749.7L156.3 749.6L156.9 748.9L157.5 749.9L158 750L158.6 749.4L159.2 749.5L159.8 750.3L160.4 749.9L160.9 749.7L161.5 750.2L162.1 749.7L162.7 749.9L163.2 750.8L163.8 749.8L164.4 750.2L165 750.4L165.5 751.3L166.1 750.1L166.7 751.2L167.3 750.1L167.9 749.4L168.4 750.6L169 750.1L169.3 750.1L169.6 749.4L169.9 749.8L170.2 749.8L170.4 748.9L170.7 750.1L171 749.3L171.3 749.9L171.6 748.7L171.9 747.5L172.2 747.2L172.5 744.8L172.8 741L173 738.1L173.3 731.1L173.6 723.1L173.9 712.4L174.2 702.6L174.5 692.3L174.8 682.8L175.1 678.6L175.4 678.8L175.6 683.1L175.9 692.5L176.2 701.8L176.5 712.5L176.8 723L177.1 731.2L177.4 736.9L177.7 740.3L177.9 743L178.2 745.2L178.5 745.7L178.8 745.6L179.1 744.7L179.4 744L179.7 742.8L180 740.1L180.3 737.6L180.5 736.4L180.8 732.5L181.1 730.8L181.4 728.9L181.7 727.1L182 725.9L182.3 726.9L182.6 727.5L182.9 728L183.1 731.6L183.4 735.2L183.7 737.1L184 738.3L184.3 742.5L184.6 743.7L184.9 745.3L185.2 746.7L185.4 747.6L185.7 749.6L186 748.1L186.3 749.9L186.6 749.1L186.9 749L187.2 750.1L187.5 750.4L187.8 749.6L188 749.4L188.3 749.4L188.6 750.3L188.9 750.3L189.2 750.7L189.5 749.4L189.8 749.4L190.1 749.5L190.3 750L190.6 749.9L190.9 749.8L191.2 749.2L191.5 748.3L191.8 748.8L192.1 749L192.4 748.9L192.7 749.3L192.9 749.1L193.2 749.6L193.5 748.6L193.8 749.4L194.1 749.6L194.4 749.1L194.7 749.4L195 749.3L195.3 750.2L195.5 750.4L195.8 749.3L196.1 749.8L196.4 750L196.7 749.4L197 749.7L197.3 749.8L197.6 750L197.8 749.5L198.1 748.8L198.4 748.3L198.7 747.7L199 747.5L199.3 746.1L199.6 745.5L199.9 744L200.2 742.5L200.4 739.7L200.7 738.7L201 735.8L201.3 734.7L201.6 731.4L201.9 728.5L202.2 727.2L202.5 724.3L202.8 723.4L203 723L203.3 721.8L203.6 721.6L203.9 722.3L204.2 723.2L204.5 725.1L204.8 726.5L205.1 728.8L205.3 731.6L205.6 734.5L205.9 736.2L206.2 738L206.5 740.2L206.8 742L207.1 744.8L207.4 744.8L207.7 746.3L207.9 747.4L208.2 747.5L208.5 749.8L208.8 748.7L209.1 749.5L209.4 750.6L210 750.5L210.5 750.2L211.1 749.7L211.7 751.2L212.3 751.3L212.8 750.3L213.4 751L214 750.9L214.6 750.8L215.2 750.5L215.7 751L216.3 750.8L216.9 750.9L217.5 750.9L218 751.6L218.6 750.4L219.2 750.5L219.8 750.5L220.3 750.3L220.9 750.7L221.5 749.7L222.1 750.7L222.7 751L223.2 750.8L223.8 750.4L224.4 750.4L225 750.3L225.5 750.9L226.1 751.3L226.7 751.1L227.3 750.8L227.8 751.7L228.4 750.5L229 750.4L229.6 750.5L230.1 751.2L230.7 750.7L231.3 750.3L231.9 749.8L232.5 750L233 750.5L233.6 749.3L234.2 750.4L234.8 750.3L235.3 750.6L235.9 751.2L236.5 750.4L237.1 749.6L237.6 750.3L238.2 749.7L238.8 749.3L239.4 750.2L240 748.9L240.5 749.8L241.1 748.9L241.7 748.9L242.3 748.5L242.8 748.8L243.4 748.6L244 748.5L244.6 747.9L245.1 748.9L245.7 749L246.3 748.8L246.9 747.8L247.5 748L248 748.2L248.6 748.4L249.2 748.2L249.8 747.8L250.3 748.1L250.9 748.3L251.5 747.7L252.1 748.1L252.6 748.9L253.2 747.8L253.8 748.2L254.4 748.6L255 748.3L255.5 748.1L256.1 748.6L256.7 748L257.3 751L257.8 749L258.4 748.8L259 749.7L259.6 749.9L260.1 749.7L260.7 749.4L261.3 749.5L261.9 750.3L262.4 750.1L263 749.5L263.6 749.7L264.2 749.9L264.8 750L265.3 750.1L265.9 751L266.5 751.1L267.1 749.8L267.6 750.7L268.2 750.1L268.8 750.3L269.4 750.8L269.9 750.4L270.5 751L271.1 751.2L271.7 750.4L272.3 751.2L272.8 750.7L273.4 750.6L274 749.7L274.6 750.5L275.1 750.3L275.7 751.2L276.3 750L276.9 751.5L277.4 751.1L278 752.1L278.6 751L279.2 751.3L279.8 751.6L280.3 751.8L280.9 751.4L281.5 750.5L282.1 752.1L282.6 752.4L283.2 751.1L283.8 751.3L284.4 749.3L284.9 750.4L285.5 751.3L286.1 751.4L286.7 748.4L287.3 750.2L287.8 748.1L288.4 751.1L289 751.4L289.6 751.3L290.1 751.4L290.7 749.8L291.3 754.2L291.9 749.6L292.4 750L293 751.4L293.6 754.4L294.2 751.9L294.8 748.7L295.3 751L295.9 750L296.5 748.2L297.1 748.3L297.6 749.1L298.2 748.4L298.8 754.2L299.4 750.9L299.9 752.3L300.5 752.5L301.1 751.2L301.7 747L302.2 749.9L302.8 748.1L303.4 749.7L304 752.1L304.6 747.9" fill="none" stroke="#0000ff" stroke-width="0.72" stroke-linejoin="round"/>
<path d="M60.6 650.7L60.9 650.4L61.1 650.2L61.4 645.5L61.7 642.1L62 640.8L62.3 638L62.6 639.7L62.9 638.3L63.2 639L63.5 643.9L63.7 649.5L64 659.1L64.3 666.7L64.6 672.7L64.9 679.3L65.2 683.4L65.5 686.1L65.8 690.9L66 694.5L66.3 700.5L66.6 703.3L66.9 706.6L67.2 707.5L67.5 711.2L67.8 714.4L68.1 717.2L68.4 719.5L68.6 723.1L68.9 726.3L69.2 728.9L69.5 726.4L69.8 724.8L70.1 725.1L70.4 723.6L70.7 719.7L71 718.6L71.2 716.2L71.5 714.9L71.8 714.1L72.1 712.2L72.4 710.6L72.7 710L73 708.8L73.3 703.2L73.5 700.9L73.8 699L74.1 694.8L74.4 692.3L74.7 688.4L75 685.5L75.3 682.8L75.6 681.6L75.9 678.4L76.1 678L76.4 675.7L76.7 681L77 692.6L77.3 681.3L77.6 671.2L77.9 667L78.2 662.6L78.5 659.7L78.7 656.9L79 651.7L79.3 645.6L79.6 639.4L79.9 637.3L80.2 636L80.5 633L80.8 634.2L81 638.9L81.3 644.4L81.6 639.6L81.9 638.7L82.2 635.1L82.5 630.5L82.8 626.8L83.1 627L83.4 624.6L83.6 621.4L83.9 618.1L84.2 619.2L84.5 618.9L84.8 619.1L85.1 620.6L85.4 622.6L85.7 627.8L85.9 635.7L86.2 643.2L86.5 649L86.8 651L87.1 641.4L87.4 631.4L87.7 629.2L88 625.6L88.3 619.3L88.5 622.6L88.8 630.8L89.1 639L89.4 646.2L89.7 657.3L90 649.7L90.3 643.3L90.6 638.7L90.9 632L91.1 624.9L91.4 625.8L91.7 624.3L92 621.3L92.3 621.9L92.6 619L92.9 618.7L93.2 618.3L93.4 616.3L93.7 614.3L94 614.7L94.3 614.6L94.6 614.5L94.9 621L95.2 628.2L95.5 634.6L95.8 643.6L96 658.6L96.3 675.5L96.6 673.7L96.9 672.8L97.2 667.6L97.5 660.7L97.8 655.6L98.1 651.7L98.3 646.6L98.6 642.8L98.9 649.3L99.2 655.5L99.5 660.3L99.8 667L100.1 672.5L100.4 678.8L100.7 684L100.9 684.4L101.2 689.5L101.5 692.1L101.8 696.7L102.1 699.5L102.4 703.9L102.7 704.8L103 701.5L103.3 697.6L103.5 693.1L103.8 689.3L104.1 685.8L104.4 684.9L104.7 683.8L105 685.7L105.3 685.9L105.6 686L105.8 686L106.1 687.3L106.4 688.1L106.7 687.3L107 685.1L107.3 685L107.6 683.7L107.9 680.8L108.2 681.5L108.4 679.6L108.7 679.6L109 685L109.3 688.4L109.6 686.8L109.9 683.2L110.2 682.3L110.5 678L110.8 677.4L111 674.7L111.3 673.1L111.6 671L111.9 681.4L112.2 690.1L112.5 688L112.8 686.9L113.1 684.9L113.3 680.7L113.6 678.5L113.9 679L114.2 675.3L114.5 673.7L114.8 672.6L115.1 669.9L115.4 668.3L115.7 665.4L115.9 665.6L116.2 663.3L116.5 660.9L116.8 659.2L117.1 658.8L117.4 662.2L117.7 679.5L118 693.3L118.2 707.9L118.5 714.9L118.8 707.1L119.1 697.2L119.4 688.2L119.7 680.3L120 672.1L120.3 663.8L120.6 655.5L120.8 646L121.1 640.2L121.4 638L121.7 634.3L122 631.2L122.3 628L122.6 624.6L122.9 622L123.2 618.2L123.4 615.3L123.7 613.2L124 612.2L124.3 610.1L124.6 608.6L124.9 606.5L125.2 604.9L125.5 603.2L125.7 601.5L126 600.6L126.3 599.8L126.6 598.8L126.9 597.9L127.2 597.6L127.5 597.9L127.8 597.3L128.1 597.5L128.3 597.6L128.6 597.1L128.9 597.7L129.2 597.8L129.5 597.7L129.8 597.8L130.1 597.5L130.4 597.8L130.7 597.5L130.9 597.9L131.2 597.3L131.5 597.3L131.8 597.6L132.1 598L132.4 597.3L132.7 597.3L133 597.9L133.2 598L133.5 597.7L133.8 597.5L134.1 597.5L134.4 597.6L134.7 597.6L135 597.5L135.3 597.7L135.6 597.6L135.8 597.3L136.1 597.6L136.4 597.9L136.7 597.7L137 597.6L137.3 597.5L137.6 599.6L137.9 601.7L138.1 604.2L138.4 604.8L138.7 602.3L139 599.9L139.3 597.9L139.6 597.9L139.9 597.6L140.2 597.5L140.5 597.6L140.7 597.6L141 597.6L141.3 597.6L141.6 597.7L141.9 597.6L142.2 597.7L142.5 597.4L142.8 597.4L143.1 597.4L143.3 597.7L143.6 597.4L143.9 597.8L144.2 597.4L144.5 597.8L144.8 597.4L145.1 597.8L145.4 597.8L145.6 597.5L145.9 597.5L146.2 597.6L146.5 597.7L146.8 597.6L147.1 597.4L147.4 597.8L147.7 597.5L148 597.7L148.2 597.8L148.5 597.5L148.8 597.7L149.1 597.6L149.4 597.3L149.7 597.5L150 597.4L150.3 597.4L150.6 597.4L150.8 597.3L151.1 597.6L151.4 597.6L151.7 597.5L152 597.7L152.3 597.4L152.6 597.6L152.9 597.7L153.1 597.5L153.4 597.6L153.7 597.7L154 597.7L154.3 597.6L154.6 597.3L154.9 600L155.2 603.5L155.5 605.9L155.7 609.4L156 606.4L156.3 603.5L156.6 600.3L156.9 597.4L157.2 597.4L157.5 597.4L157.8 597.5L158 597.7L158.3 597.5L158.6 597.5L158.9 597.4L159.2 597.5L159.5 597.7L159.8 597.6L160.1 597.6L160.4 597.3L160.6 597.6L160.9 597.5L161.2 597.6L161.5 597.7L161.8 597.3L162.1 597.2L162.4 597.6L162.7 597.3L163 597.6L163.2 597.4L163.5 597.8L163.8 597.4L164.1 597.5L164.4 597.4L164.7 597.9L165 597.4L165.3 597.7L165.5 597.2L165.8 597.4L166.1 597.1L166.4 597.3L166.7 597.7L167 597.7L167.3 597.2L167.6 597.3L167.9 597L168.1 597.4L168.4 597.2L168.7 597.2L169 597.2L169.3 597.4L169.6 597.5L169.9 597.4L170.2 597L170.4 597.6L170.7 597.4L171 597.3L171.3 597.5L171.6 597.1L171.9 597.2L172.2 597.5L172.5 597.4L172.8 597.3L173 597.4L173.3 597.2L173.6 597.2L173.9 597.5L174.2 597.3L174.5 597.5L174.8 600.8L175.1 597.3L175.4 597.1L175.6 597L175.9 597.5L176.2 597.3L176.5 597.2L176.8 597.3L177.1 597.4L177.4 597.6L177.7 597.5L177.9 597.4L178.2 597.3L178.5 597.5L178.8 597.3L179.1 597.4L179.4 597.1L179.7 597.4L180 597L180.3 597.7L180.5 597.3L180.8 597.3L181.1 597.4L181.4 597.2L181.7 597.4L182 597.6L182.3 597.8L182.6 597.6L182.9 597.5L183.1 597.1L183.4 597.4L183.7 597.1L184 597.3L184.3 597.4L184.6 597.7L184.9 597.7L185.2 597.3L185.4 597.5L185.7 597.4L186 597.6L186.3 597.4L186.6 597.4L186.9 597.5L187.2 597.6L187.5 597.4L187.8 597.3L188 597.1L188.3 597.2L188.6 597.5L188.9 597.3L189.2 597.3L189.5 597.4L189.8 597.5L190.1 597.4L190.3 597.3L190.6 597.2L190.9 597.3L191.2 597L191.5 597.3L191.8 597.1L192.1 597.7L192.4 597.4L192.7 597.3L192.9 597.8L193.2 597.2L193.5 597.6L193.8 597.3L194.1 597.3L194.4 597.9L194.7 597.3L195 597.7L195.3 597.7L195.5 596.9L195.8 597.2L196.1 597.1L196.4 597.6L196.7 597.6L197 597.3L197.3 597.8L197.6 597.5L197.8 597.2L198.1 597.4L198.4 597.1L198.7 597.8L199 597.5L199.3 597.5L199.6 597.4L199.9 597.7L200.2 597.6L200.4 597.6L200.7 597.5L201 597.7L201.3 597.2L201.6 597.4L201.9 597.3L202.2 597.5L202.5 597.6L202.8 597.5L203 597.1L203.3 597.3L203.6 597.5L203.9 597.6L204.2 597.2L204.5 597.5L204.8 597.5L205.1 597.7L205.3 597.6L205.6 597.4L205.9 597.8L206.2 597.3L206.5 597.4L206.8 597.4L207.1 597.5L207.4 597.3L207.7 597.1L207.9 597.8L208.2 597.4L208.5 597.7L208.8 597L209.1 597.4L209.4 597.9L209.7 597.8L210 597.5L210.2 597.6L210.5 597.6L210.8 597.6L211.1 597.3L211.4 597.4L211.7 597.6L212 597.7L212.3 597.3L212.6 597.7L212.8 597.5L213.1 597.5L213.4 597.3L213.7 597.7L214 597.5L214.3 597.7L214.6 597.8L214.9 597.6L215.2 597.4L215.4 597.6L215.7 597.5L216 597.5L216.3 597.9L216.6 597.4L216.9 597.8L217.2 597.6L217.5 597.3L217.7 597.3L218 597.5L218.3 597.7L218.6 597.7L218.9 597.8L219.2 597.2L219.5 597.3L219.8 597.6L220.1 597.6L220.3 597.8L220.6 597.6L220.9 597.5L221.2 597.9L221.5 597.6L221.8 597.4L222.1 597.3L222.4 597.7L222.7 597.8L222.9 597.3L223.2 597.4L223.5 597.4L223.8 597.6L224.1 597.8L224.4 597.9L224.7 597.6L225 597.3L225.2 597.2L225.5 597.4L225.8 597.7L226.1 597.5L226.4 597.9L226.7 597.6L227 597.5L227.3 597.5L227.6 597.9L227.8 598.1L228.1 597.5L228.4 597.7L228.7 597.4L229 597.4L229.3 597.4L229.6 597.9L229.9 597.4L230.1 597.5L230.4 597.5L230.7 597.8L231 597.4L231.3 597.7L231.6 597.6L231.9 597.3L232.2 597.7L232.5 597.3L232.7 597.9L233 597.7L233.3 597.8L233.6 597.5L233.9 597.7L234.2 597.9L234.5 597.8L234.8 597.4L235.1 598L235.3 597.3" fill="none" stroke="#000000" stroke-width="0.75" stroke-linejoin="round"/>
<rect x="238.5" y="572.6" width="90.95" height="65.4" fill="#fff" stroke="#6a6a6a" stroke-width="1.1"/>
<path d="M241.9 583.5H258.1" stroke="#f00" stroke-width="0.6"/>
<circle cx="249.8" cy="583.5" r="1.8" fill="#f00"/>
<text transform="translate(261.5,587) scale(1,1.0)" font-size="10">Alpha RL</text>
<path d="M241.9 605.4H258.1" stroke="#00f" stroke-width="0.6"/>
<rect x="248" y="603.6" width="3.6" height="3.6" fill="#00f"/>
<text transform="translate(261.5,608.9) scale(1,1.0)" font-size="10">X-ray RL</text>
<path d="M241.9 627.4H258.1" stroke="#000" stroke-width="0.6"/>
<rect x="248" y="625.6" width="3.6" height="3.6" fill="#000"/>
<text transform="translate(261.5,630.9) scale(1,1.0)" font-size="10">Transparency</text>
<path d="M393.18 781.85V778.25M407.6 781.85V775.15M422.02 781.85V778.25M436.44 781.85V778.25M450.86 781.85V778.25M465.28 781.85V775.15M479.7 781.85V778.25M494.12 781.85V778.25M508.54 781.85V778.25M522.96 781.85V775.15M537.38 781.85V778.25M551.8 781.85V778.25M566.22 781.85V778.25M580.64 781.85V775.15M595.06 781.85V778.25M609.48 781.85V778.25M623.9 781.85V778.25M638.32 781.85V775.15M652.74 781.85V778.25M667.16 781.85V778.25M384.75 777.83H389.15M384.75 769.69H389.15M384.75 761.54H389.15M384.75 753.4H392.95M384.75 745.25H389.15M384.75 737.11H389.15M384.75 728.97H389.15M384.75 720.82H392.95M384.75 712.67H389.15M384.75 704.53H389.15M384.75 696.38H389.15M384.75 688.24H392.95M384.75 680.1H389.15M384.75 671.95H389.15M384.75 663.8H389.15M384.75 655.66H392.95M384.75 647.51H389.15M384.75 639.37H389.15M384.75 631.23H389.15M384.75 623.08H392.95M384.75 614.93H389.15M384.75 606.79H389.15M384.75 598.64H389.15M384.75 590.5H392.95M384.75 582.36H389.15M384.75 574.21H389.15" stroke="#6a6a6a" stroke-width="1" fill="none"/>
<rect x="384.75" y="572.6" width="290" height="209.25" fill="none" stroke="#6a6a6a" stroke-width="1.1"/>
<g font-size="8.7" fill="#000"><text transform="translate(407.6,790.3) scale(1,1.09)" text-anchor="middle">200</text><text transform="translate(465.28,790.3) scale(1,1.09)" text-anchor="middle">400</text><text transform="translate(522.96,790.3) scale(1,1.09)" text-anchor="middle">600</text><text transform="translate(580.64,790.3) scale(1,1.09)" text-anchor="middle">800</text><text transform="translate(638.32,790.3) scale(1,1.09)" text-anchor="middle">1000</text><text transform="translate(382.9,756.7) scale(1,1.09)" text-anchor="end">0</text><text transform="translate(382.9,724.12) scale(1,1.09)" text-anchor="end">20</text><text transform="translate(382.9,691.54) scale(1,1.09)" text-anchor="end">40</text><text transform="translate(382.9,658.96) scale(1,1.09)" text-anchor="end">60</text><text transform="translate(382.9,626.38) scale(1,1.09)" text-anchor="end">80</text><text transform="translate(382.9,593.8) scale(1,1.09)" text-anchor="end">100</text><text transform="translate(674.9,798.9) scale(1,1.0)" text-anchor="end">Wavelength [nm]</text><text transform="translate(360,572.6) rotate(-90)" text-anchor="end">Relative L.Y. / Transparency [%]</text></g>
<text transform="translate(529.8,559.3) scale(1,1.0)" text-anchor="middle" font-size="13.2">CaF2 with 5% Eu doping</text>
<path d="M408.8 756.4L409 752.8L409.3 752L409.6 755.1L409.9 754.7L410.2 749.1L410.5 755.5L410.8 752.7L411.1 754.9L411.3 751.5L411.6 751L411.9 749.5L412.2 749.6L412.5 755.5L412.8 754.5L413.1 754.8L413.4 754.3L413.7 752.3L413.9 753.2L414.2 755.2L414.5 754.9L414.8 745.5L415.1 757L415.4 746.5L415.7 756.3L416 756L416.3 754.1L416.5 754.1L416.8 753.4L417.1 755L417.4 754.1L417.7 752.1L418 750.5L418.3 752L418.6 750.2L418.8 752.7L419.1 747.1L419.4 760.9L419.7 754.1L420 752.3L420.3 753.5L420.6 752.1L420.9 752.1L421.2 749.2L421.4 753.4L421.7 753.4L422 755.8L422.3 752.7L422.6 754.1L422.9 752L423.2 753.9L423.5 752.1L423.8 754.4L424 756.5L424.3 754.8L424.6 754.9L424.9 750.4L425.2 753.6L425.5 752.1L425.8 750.4L426.1 751.5L426.3 753.7L426.6 752.3L426.9 759.3L427.2 751.1L427.5 755.3L427.8 758.2L428.1 751.2L428.4 754.1L428.7 757.7L428.9 751.3L429.2 749.5L429.5 753L429.8 754.9L430.1 751.5L430.4 747.8L430.7 755.4L431 754.1L431.2 755L431.5 752.7L431.8 752.9L432.1 751.6L432.4 754.1L432.7 752L433 747.4L433.3 757L433.6 753.9L433.8 753.5L434.1 754.2L434.4 753.8L434.7 753.9L435 751.9L435.3 754L435.6 752.9L435.9 753.3L436.2 750.9L436.4 759.1L436.7 751.6L437 757.1L437.3 755.2L437.6 753.4L437.9 756.2L438.2 752L438.5 752.5L438.7 750.7L439 750.4L439.3 756.3L439.6 747.5L439.9 752.4L440.2 751.5L440.5 755.3L440.8 755.8L441.1 750.5L441.3 752.1L441.6 757.7L441.9 751.1L442.2 751.9L442.5 758.4L442.8 759.2L443.1 754.3L443.4 755.1L443.7 752.5L443.9 749.6L444.2 748.9L444.5 755.1L444.8 756L445.1 749L445.4 753.4L445.7 754.4L446 749L446.2 751.3L446.5 753.7L446.8 750.2L447.1 753.9L447.4 750.4L447.7 750.8L448 752.3L448.3 756L448.6 753.4L448.8 748.2L449.1 749.6L449.4 750.4L449.7 755.3L450 750L450.3 755.1L450.6 753L450.9 751.5L451.1 748L451.4 755L451.7 752.3L452 756.8L452.3 755.4L452.6 750.3L452.9 751.3L453.2 750.2L453.5 749.1L453.7 747.9L454 751.4L454.3 755.9L454.6 754.1L454.9 755L455.2 753.4L455.5 754.5L455.8 752.4L456.1 755.2L456.3 750L456.6 754.7L456.9 754.4L457.2 756.4L457.5 756.1L457.8 752.8L458.1 753.1L458.4 754.5L458.6 752.9L458.9 751.3L459.2 756.1L459.5 756.4L459.8 751.5L460.1 754.7L460.4 753L460.7 752.1L461 753.3L461.2 750.6L461.5 752.3L461.8 751.2L462.1 750.7L462.4 754.8L462.7 754.6L463 750.4L463.3 753.2L463.5 745.6L463.8 755.5L464.1 757.3L464.4 754L464.7 746.8L465 749.2L465.3 753.8L465.6 750.9L465.9 749L466.1 751.4L466.4 749.2L466.7 748.4L467 746.9L467.3 747.3L467.6 745.3L467.9 743.8L468.2 738.9L468.5 744.9L468.7 740.4L469 732.9L469.3 733.4L469.6 734.6L469.9 739.9L470.2 728.8L470.5 725.4L470.8 727.1L471 725.2L471.3 723.4L471.6 719.1L471.9 725L472.2 721.1L472.5 719.7L472.8 716.1L473.1 715.5L473.4 718.8L473.6 721.2L473.9 718.7L474.2 720.1L474.5 719.2L474.8 721.2L475.1 722.5L475.4 722.6L475.7 724.2L476 723.7L476.2 725.2L476.5 729.9L476.8 727.7L477.1 727.1L477.4 727L477.7 726.3L478 731.6L478.3 732.9L478.5 738.8L478.8 737.4L479.1 736.8L479.4 737.9L479.7 740.5L480 740.8L480.3 736.1L480.6 741L480.9 740.3L481.1 736.7L481.4 743L481.7 746.6L482 741.4L482.3 739.2L482.6 745.5L482.9 744.2L483.2 744.8L483.4 744.1L483.7 744.6L484 746.7L484.3 747.5L484.6 748L484.9 747.2L485.2 745.5L485.5 747.5L485.8 749L486 750.1L486.3 747.5L486.6 752.1L486.9 748.9L487.2 747.2L487.5 752L487.8 747L488.1 753.7L488.4 750.1L488.6 750.6L488.9 749.1L489.2 750L489.5 750.3L489.8 749.7L490.1 752.4L490.4 751.3L490.7 750.8L490.9 753.3L491.2 750.9L491.5 749.6L491.8 752.7L492.1 751.2L492.4 751.8L492.7 753.6L493 751.9L493.3 752.9L493.5 750.2L493.8 750.9L494.1 751.8L494.4 750.7L494.7 751.4L495 751.6L495.3 755L495.6 750.8L495.9 752.7L496.1 752.6L496.4 751.2L496.7 752.3L497 752.3L497.3 752.5L497.6 749.3L497.9 752.8L498.2 751.4L498.4 753.2L498.7 753.6L499 751.7L499.3 750.7L499.6 753L499.9 752.2L500.2 749.4L500.5 754L500.8 751.2L501 750.1L501.3 753L501.6 750.5L501.9 750.6L502.2 756.4L502.5 750.9L502.8 752.8L503.1 751.7L503.3 749L503.6 749.3L503.9 752.4L504.2 752.1L504.5 755.5L504.8 752.2L505.1 751.5L505.4 749.3L505.7 751.3L505.9 752.2L506.2 752L506.5 751.4L506.8 752.1L507.1 752.1L507.4 751.6L507.7 749.8L508 753.2L508.3 751.5L508.5 752.5L508.8 752.4L509.1 751.8L509.4 752.9L509.7 752.8L510 751.9L510.3 751.8L510.6 751L510.8 752.8L511.1 750.8L511.4 749.6L511.7 750.1L512 752.4L512.3 749.7L512.6 751.1L512.9 750.8L513.2 750.1L513.4 751.1L513.7 747.9L514 750.4L514.3 750.6L514.6 750.2L514.9 750.8L515.2 750.7L515.5 747.2L515.8 749.7L516 749.8L516.3 750L516.6 749L516.9 744.4L517.2 745.1L517.5 744.9L517.8 741.8L518.1 738.4L518.3 734.3L518.6 723.7L518.9 708.9L519.2 694.1L519.5 669.5L519.8 641.6L520.1 619.5L520.4 596.4L520.7 590.5L520.9 597.2L521.2 616L521.5 639.2L521.8 665.7L522.1 686.8L522.4 708.6L522.7 720.6L523 729.2L523.2 733L523.5 738.6L523.8 740.3L524.1 741.5L524.4 741.8L524.7 740.1L525 735.8L525.3 732.9L525.6 729.7L525.8 725L526.1 718.6L526.4 713.1L526.7 705.4L527 700.5L527.3 694.4L527.6 691.7L527.9 692.6L528.2 695.5L528.4 701.4L528.7 705.8L529 712.5L529.3 719.8L529.6 726.7L529.9 729.9L530.2 736.5L530.5 738.6L530.7 742.1L531 747.4L531.3 748.9L531.6 746.6L531.9 748.7L532.2 750.1L532.5 750.3L532.8 748.9L533.1 750.3L533.3 751.5L533.6 750.1L533.9 751.4L534.2 749.8L534.5 749L534.8 749.5L535.1 748.3L535.4 749.3L535.6 748.4L535.9 748.2L536.2 745.2L536.5 747.1L536.8 747.4L537.1 743.8L537.4 744.1L537.7 745.6L538 745L538.2 746.5L538.5 744.5L538.8 747.8L539.1 746L539.4 748.2L539.7 747.1L540 746.9L540.3 748.9L540.6 748L540.8 748.6L541.1 749.9L541.4 750.5L541.7 750.7L542 751.1L542.3 749.2L542.6 752.4L542.9 748.9L543.1 749.7L543.4 750.1L543.7 747.3L544 744.8L544.3 745.4L544.6 745.4L544.9 741.3L545.2 739.3L545.5 734.1L545.7 731.1L546 729L546.3 723.1L546.6 719.2L546.9 712.7L547.2 707.4L547.5 702.8L547.8 695.2L548.1 692.1L548.3 686.3L548.6 683.6L548.9 681.6L549.2 682.5L549.5 684.6L549.8 686.6L550.1 693.1L550.4 694.4L550.6 701.4L550.9 706.1L551.2 713.7L551.5 718.8L551.8 725L552.1 728.6L552.4 729.4L552.7 736.6L553 742.6L553.2 742.1L553.5 743.5L553.8 745.2L554.1 749.4L554.4 745.9L554.7 744.8L555 751.7L555.3 749L555.5 751.4L555.8 749.9L556.1 753.1L556.4 753.6L556.7 750.7L557 751L557.3 752.1L557.6 750.1L557.9 750.9L558.1 751L558.4 753.2L558.7 752.7L559 749L559.3 751.1L559.6 750.5L559.9 749.2L560.2 749.1L560.5 751.8L560.7 750.2L561 753L561.3 752.4L561.6 749.5L561.9 754L562.2 751.2L562.5 751.5L562.8 751.5L563 753.3L563.3 754.8L563.6 749.8L563.9 753L564.2 750L564.5 755L564.8 750.9L565.1 752.4L565.4 755.8L565.6 751.9L565.9 749.7L566.2 750.3L566.5 747.6L566.8 752.9L567.1 750L567.4 752.3L567.7 749.8L568 752.7L568.2 751.8L568.5 749.2L568.8 752.3L569.1 752.4L569.4 751.4L569.7 753.5L570 756.3L570.3 752.7L570.5 749.8L570.8 749.1L571.1 755L571.4 755.8L571.7 751.9L572 755.5L572.3 754.7L572.6 751.1L572.9 753.1L573.1 756.7L573.4 749.1L573.7 752.8L574 750.7L574.3 751.6L574.6 754.3L574.9 753.3L575.2 753L575.4 749.4L575.7 752.8L576 751.3L576.3 751.9L576.6 750.1L576.9 750.8L577.2 753.3L577.5 755.5L577.8 752.3L578 757.1L578.3 755.3L578.6 752.5L578.9 754.7L579.2 755.4L579.5 749.9L579.8 754.7L580.1 755.2L580.4 750.3L580.6 751.2L580.9 755.4L581.2 753.4L581.5 749.4L581.8 753.8L582.1 752.5L582.4 751.4L582.7 752.6L582.9 750.7L583.2 753.4L583.5 754.1L583.8 746.8L584.1 755.1L584.4 750.4L584.7 749L585 750.8L585.3 754.7L585.5 753.1L585.8 752.2L586.1 750.9L586.4 750.3L586.7 751L587 751.5L587.3 754.2L587.6 747.7L587.9 754L588.1 755.3L588.4 751L588.7 752.1L589 756.8L589.3 748.6L589.6 749.7L589.9 747.4L590.2 748.5L590.4 756.3L590.7 750.2L591 746.6L591.3 747.7L591.6 750.2L591.9 750.2L592.2 751.3L592.5 748.5L592.8 746.1L593 748L593.3 746.7L593.6 751.7L593.9 753.9L594.2 750.8L594.5 751.5L594.8 747.6L595.1 755.8L595.3 751.5L595.6 752.9L595.9 748.7L596.2 748.4L596.5 755L596.8 747.8L597.1 749.2L597.4 752.2L597.7 748.9L597.9 753.2L598.2 751.5L598.5 752.9L598.8 751.4L599.1 751.4L599.4 749.1L599.7 752.2L600 753.1L600.3 750L600.5 753.2L600.8 750.2L601.1 750.4L601.4 749.2L601.7 755L602 752.7L602.3 750.9L602.6 752.3L602.8 753.6L603.1 747.8L603.4 755L603.7 754.1L604 753.6L604.3 749.9L604.6 755.5L604.9 753.7L605.2 747.5L605.4 754L605.7 758.3L606 754.7L606.3 756.5L606.6 749.5L606.9 745.8L607.2 754.6L607.5 753L607.7 750.6L608 753.5L608.3 760.2L608.6 756L608.9 748.5L609.2 753.3L609.5 745.4L609.8 756L610.1 753.8L610.3 751.3L610.6 745.9L610.9 748.2L611.2 748.3L611.5 752.3L611.8 754.2L612.1 751.3L612.4 752.8L612.7 751.4L612.9 753.5L613.2 747.5L613.5 751.9L613.8 748.7L614.1 749.3L614.4 747.8L614.7 759L615 754.4L615.2 753.5L615.5 751L615.8 751L616.1 753.3L616.4 758.5L616.7 754.9L617 753.4L617.3 753.1L617.6 745L617.8 754L618.1 750.4L618.4 749.2L618.7 752.5L619 754.6L619.3 754.3L619.6 744.5L619.9 759.8L620.2 752.3L620.4 757.3L620.7 756.9L621 753.2L621.3 746.7L621.6 749.7L621.9 752.7L622.2 745.5L622.5 755.2L622.7 747.9L623 749.7L623.3 745.1L623.6 753.7L623.9 751L624.2 754.3L624.5 752.1L624.8 758.5L625.1 750.1L625.3 751.3L625.6 751.1L625.9 754.4L626.2 755.9L626.5 753.8L626.8 746L627.1 753.6L627.4 756.7L627.6 752.8L627.9 748.1L628.2 761.5L628.5 750L628.8 759.1L629.1 758.2L629.4 752.3L629.7 752.9L630 749.8L630.2 758.4L630.5 751.5L630.8 748.4L631.1 751.3L631.4 760.7L631.7 747L632 755.1L632.3 746.2L632.6 746.7L632.8 759.8L633.1 760.8L633.4 761.4L633.7 750.9L634 753L634.3 754L634.6 745.5L634.9 756.4L635.1 755.4L635.4 757.3L635.7 745.1L636 739.6L636.3 742.8L636.6 748.5L636.9 749.4L637.2 767.6L637.5 761.1L637.7 758.4L638 750L638.3 752.6L638.6 747.2L638.9 752.2L639.2 751.3L639.5 757L639.8 760.4L640.1 764.2L640.3 755.8L640.6 749.7L640.9 745.9L641.2 759.6L641.5 752.6L641.8 757.7L642.1 754.7L642.4 753.2L642.6 761.1L642.9 755.8L643.2 754.2L643.5 751L643.8 753.8L644.1 748.3L644.4 749.3L644.7 758.3L645 748.7L645.2 747.1L645.5 750.5L645.8 748.2L646.1 752.3L646.4 752.8L646.7 756.6L647 755.7L647.3 746.9L647.5 750L647.8 747.1L648.1 748.3L648.4 746.7L648.7 757.5L649 748.1L649.3 747.6L649.6 756.9L649.9 758.7L650.1 758.3" fill="none" stroke="#ff0000" stroke-width="0.6" stroke-linejoin="round"/>
<path d="M408.8 752.7L409.3 753L409.9 752.7L410.5 752.9L411.1 753.6L411.6 752.7L412.2 753.1L412.8 752.6L413.4 752.5L413.9 752.2L414.5 752.7L415.1 752.9L415.7 752.6L416.3 752.6L416.8 753.5L417.4 753L418 753.1L418.6 752.5L419.1 752.8L419.7 752.7L420.3 752.5L420.9 752.7L421.4 753.3L422 753.1L422.6 752.6L423.2 753L423.8 753.1L424.3 752.6L424.9 752.6L425.5 753L426.1 753L426.6 752.6L427.2 753L427.8 753.1L428.4 752.6L428.9 752.4L429.5 753.3L430.1 753.1L430.7 752.6L431.2 752.9L431.8 752.6L432.4 752.7L433 752.1L433.6 753.4L434.1 752.7L434.7 753.1L435.3 753.5L435.9 753.2L436.4 753.1L437 752.6L437.6 753L438.2 753.2L438.7 753.2L439.3 752.8L439.9 752.7L440.5 753.2L441.1 752.8L441.6 752.8L442.2 753L442.8 753L443.4 753L443.9 753.1L444.5 753.2L445.1 752.9L445.7 753L446.2 753L446.8 753.3L447.4 752.6L448 752.9L448.6 751.9L449.1 752L449.7 752.9L450.3 752.2L450.9 753.2L451.4 753.4L452 753.1L452.6 753L453.2 752.8L453.7 752.2L454.3 753.2L454.9 752.9L455.5 752.6L456.1 752.8L456.6 752.4L457.2 752.6L457.8 752.3L458.4 752.5L458.9 752.8L459.5 752.8L460.1 753.2L460.7 752.8L461.2 752.8L461.8 752.8L462.4 752.8L463 752.8L463.5 752.2L464.1 752.3L464.7 751.9L465.3 750.7L465.9 749.4L466.4 746.3L467 741.5L467.6 736.7L468.2 728.8L468.7 721.7L469.3 715.4L469.9 709.5L470.5 702L471 695L471.6 688.6L472.2 683.8L472.5 683.2L472.8 681.9L473.4 680.3L473.9 683L474.5 685.1L475.1 689.6L475.7 693.7L476.2 698L476.8 703L477.4 707L478 711.8L478.5 715.1L479.1 718.5L479.7 721.1L480.3 723.9L480.9 726.6L481.4 729.4L482 732.3L482.6 734.7L483.2 736.6L483.7 738L484.3 738.9L484.9 741.5L485.5 742.4L486 744.4L486.6 744.8L487.2 746.3L487.8 746.6L488.4 747.9L488.9 748.2L489.5 748.7L490.1 748.7L490.7 748.8L491.2 749.8L491.8 749.8L492.4 750.4L493 750.6L493.5 750.6L494.1 751L494.7 750.7L495.3 751.2L495.9 750.9L496.4 751.3L497 751.3L497.6 751.6L498.2 751.8L498.7 751.6L499.3 751.4L499.9 752.2L500.5 751.9L501 751.9L501.6 752.1L502.2 752L502.8 751.5L503.3 751.7L503.9 753.2L504.5 752.3L505.1 751.9L505.7 752L506.2 751.6L506.8 752.1L507.4 751.6L508 751.9L508.5 752.3L509.1 751.7L509.7 751.7L510.3 751.3L510.8 751.7L511.4 751.2L512 751.7L512.6 751.3L513.2 750.8L513.7 750.9L514.3 750.4L514.6 750L514.9 749.7L515.2 749.8L515.5 749.6L515.8 749L516 748.9L516.3 748.3L516.6 747.5L516.9 747.7L517.2 746.1L517.5 744.6L517.8 742.1L518.1 738.4L518.3 732.3L518.6 722.8L518.9 709.7L519.2 692L519.5 668.6L519.8 642.1L520.1 617.2L520.4 598.3L520.7 590.5L520.9 597.8L521.2 616.4L521.5 641.9L521.8 667.7L522.1 690.2L522.4 708.7L522.7 722.7L523 730.7L523.2 736.4L523.5 739.1L523.8 740.9L524.1 741.9L524.4 741.4L524.7 739.8L525 737.5L525.3 734.8L525.6 731.5L525.8 726.6L526.1 721.2L526.4 715.6L526.7 710.1L527 704.7L527.3 701L527.6 698.3L527.9 698.6L528.2 701.1L528.4 704.4L528.7 710.9L529 716.8L529.3 722.6L529.6 728.3L529.9 733.5L530.2 737.7L530.5 740.6L530.7 743.3L531 745.2L531.3 747.3L531.6 748.1L531.9 748.6L532.2 749L532.5 749.4L532.8 749.4L533.1 750.2L533.3 749.5L533.6 750.1L533.9 749.9L534.2 750.2L534.5 749.8L534.8 750.1L535.1 749.9L535.4 749.1L535.6 749.4L535.9 748.7L536.2 748.2L536.5 747.7L536.8 747.5L537.1 746.6L537.4 746.3L537.7 746.8L538 746.7L538.2 746.4L538.5 746.4L538.8 746.5L539.1 747.2L539.4 748L539.7 748.2L540 749.2L540.3 749L540.6 749.3L540.8 749.4L541.1 750.1L541.4 749.5L541.7 749.7L542 750.2L542.3 750.1L542.6 749.9L542.9 749.7L543.1 748.3L543.4 748.3L543.7 748.2L544 747.5L544.3 746.3L544.6 744.4L544.9 743.1L545.2 740.3L545.5 737.4L545.7 734.3L546 730.8L546.3 726.9L546.6 722.3L546.9 717.1L547.2 711.9L547.5 706.9L547.8 701.8L548.1 697.1L548.3 693.1L548.6 690.6L548.9 689.1L549.2 689.3L549.5 691.1L549.8 693.8L550.1 697.3L550.4 701.9L550.6 706.3L550.9 711.9L551.2 717.1L551.5 721.6L551.8 727.3L552.1 731.7L552.4 735.1L552.7 737.5L553 740.4L553.2 742.6L553.5 744.9L553.8 745.9L554.1 747.5L554.4 748.2L554.7 748.6L555.3 749.6L555.8 751L556.4 750.8L557 751.4L557.6 751.5L558.1 751.4L558.7 751.1L559.3 751.7L559.9 751.9L560.5 752L561 751.5L561.6 752.1L562.2 752L562.8 752.1L563.3 751.3L563.9 752.2L564.5 752.2L565.1 752.4L565.6 752.5L566.2 752.3L566.8 752.7L567.4 752.8L568 752.4L568.5 751.9L569.1 752.9L569.7 752.4L570.3 752.2L570.8 752.4L571.4 752.4L572 752.4L572.6 752.7L573.1 752.9L573.7 752.6L574.3 752.5L574.9 752.4L575.4 752.2L576 752.5L576.6 752.3L577.2 752.6L577.8 752.6L578.3 751.6L578.9 752.2L579.5 752.4L580.1 752.2L580.6 752.5L581.2 752.7L581.8 751.9L582.4 751.6L582.9 752L583.5 751.3L584.1 752.4L584.7 751.7L585.3 752.1L585.8 751.8L586.4 750.7L587 751.3L587.6 751.4L588.1 751.5L588.7 750.4L589.3 751.7L589.9 750.7L590.4 750.8L591 750.9L591.6 751L592.2 750.9L592.8 750.8L593.3 751.4L593.9 751L594.5 751L595.1 751.1L595.6 751.2L596.2 750.9L596.8 750.5L597.4 750.2L597.9 750.9L598.5 750.8L599.1 751L599.7 751L600.3 751.2L600.8 751.1L601.4 751L602 750.7L602.6 751.4L603.1 751.4L603.7 751.1L604.3 751.6L604.9 751.4L605.4 751.7L606 752.1L606.6 752L607.2 751.3L607.7 752.1L608.3 752L608.9 752.5L609.5 752.4L610.1 752.5L610.6 752.2L611.2 752.8L611.8 753.3L612.4 752.4L612.9 752.4L613.5 752.2L614.1 752.4L614.7 752.5L615.2 752.6L615.8 752.5L616.4 753.4L617 753.4L617.6 752.7L618.1 752.7L618.7 752.3L619.3 752.9L619.9 753.2L620.4 752.9L621 752.6L621.6 752.5L622.2 752.3L622.7 752.9L623.3 753.2L623.9 752.8L624.5 752.9L625.1 752.6L625.6 753.3L626.2 752.9L626.8 753L627.4 752.5L627.9 752.9L628.5 753.6L629.1 751.5L629.7 753.5L630.2 753L630.8 752.5L631.4 753.7L632 753.1L632.6 752.8L633.1 753.1L633.7 752.9L634.3 753.1L634.9 752.8L635.4 752.3L636 752.8L636.6 752.9L637.2 753.6L637.7 753.3L638.3 752.5L638.9 751.6L639.5 752.8L640.1 752.4L640.6 752.7L641.2 753.3L641.8 752.9L642.4 753L642.9 754.2L643.5 754.7L644.1 752.8L644.7 752.5L645.2 751.8L645.8 752.5L646.4 752.8L647 753.1L647.5 753.8L648.1 752.6L648.7 753.9L649.3 752.4L649.9 753.3" fill="none" stroke="#0000ff" stroke-width="0.72" stroke-linejoin="round"/>
<path d="M406.4 676.5L406.7 674L407 671.9L407.3 672.1L407.6 668.7L407.9 667.8L408.2 670.3L408.5 672.7L408.8 674L409 678.4L409.3 682.1L409.6 687.8L409.9 690.2L410.2 693.6L410.5 699.7L410.8 705.9L411.1 710.4L411.3 713.6L411.6 717.9L411.9 725.3L412.2 726.1L412.5 730.7L412.8 731.7L413.1 732.9L413.4 737.9L413.7 738.3L413.9 741.9L414.2 743.6L414.5 745.8L414.8 747L415.1 745.9L415.4 743.4L415.7 742.3L416 741.5L416.3 742.1L416.5 739.7L416.8 739L417.1 736.8L417.4 734.2L417.7 730.8L418 730.1L418.3 726.9L418.6 725.8L418.8 723.4L419.1 720.1L419.4 719.9L419.7 718.4L420 717L420.3 713.7L420.6 711.3L420.9 708.3L421.2 709.5L421.4 709.8L421.7 706.9L422 713.2L422.3 719.8L422.6 702.6L422.9 683.4L423.2 682.1L423.5 677.7L423.8 676.2L424 672.8L424.3 669.9L424.6 668.6L424.9 665L425.2 662.9L425.5 660.1L425.8 657.2L426.1 655.9L426.3 655.2L426.6 653.6L426.9 652.8L427.2 653.7L427.5 651.3L427.8 662.3L428.1 670.4L428.4 664.2L428.7 656.8L428.9 648.9L429.2 642.5L429.5 644.1L429.8 643.9L430.1 644.6L430.4 643.6L430.7 641.4L431 643L431.2 647.4L431.5 648L431.8 661.3L432.1 674.4L432.4 672L432.7 653.6L433 645.7L433.3 643.3L433.6 641L433.8 643.4L434.1 640.5L434.4 642.1L434.7 646L435 643.6L435.3 645.6L435.6 645.7L435.9 662.5L436.2 677.5L436.4 676.9L436.7 662.6L437 646.6L437.3 643.9L437.6 645L437.9 642L438.2 640.7L438.5 641.3L438.7 639.7L439 639.1L439.3 639.3L439.6 638.5L439.9 639.5L440.2 646.7L440.5 656.9L440.8 668.8L441.1 679.8L441.3 687L441.6 693.1L441.9 698.6L442.2 692.7L442.5 684.3L442.8 679.5L443.1 671L443.4 662.5L443.7 668.5L443.9 674.8L444.2 677.8L444.5 684.3L444.8 687L445.1 694.4L445.4 699.9L445.7 706.3L446 713.2L446.2 717.2L446.5 719.9L446.8 724.4L447.1 726.7L447.4 731.2L447.7 733.7L448 732.9L448.3 730.4L448.6 727.4L448.8 725.1L449.1 724.6L449.4 723.2L449.7 720.3L450 719.1L450.3 716.4L450.6 716.4L450.9 717.3L451.1 716.7L451.4 717.8L451.7 718.9L452 718.3L452.3 717.8L452.6 716.5L452.9 714.3L453.2 714.1L453.5 712.1L453.7 711.1L454 711.3L454.3 709.7L454.6 708.1L454.9 710.4L455.2 708.2L455.5 705.8L455.8 705.7L456.1 706.4L456.3 705.5L456.6 704.6L456.9 703.3L457.2 702.2L457.5 706.5L457.8 710.7L458.1 712L458.4 716L458.6 720.5L458.9 717.6L459.2 712.8L459.5 711.7L459.8 708.2L460.1 705L460.4 702.9L460.7 699.1L461 696.7L461.2 696.2L461.5 693.7L461.8 691.8L462.1 692.2L462.4 688.9L462.7 686.3L463 695.3L463.3 704.1L463.5 715.7L463.8 723.8L464.1 734.9L464.4 725.9L464.7 715.3L465 703.8L465.3 696.7L465.6 687.6L465.9 686.1L466.1 681.3L466.4 677.3L466.7 674.7L467 671.7L467.3 668.5L467.6 665.6L467.9 660.2L468.2 655.4L468.5 650L468.7 645.7L469 641.2L469.3 636.4L469.6 632.5L469.9 627.4L470.2 623.2L470.5 620.4L470.8 617.7L471 615.3L471.3 612.5L471.6 609.7L471.9 607.2L472.2 607.3L472.5 606.9L472.8 606.7L473.1 606.8L473.4 606.4L473.6 606.3L473.9 606.1L474.2 605.9L474.5 605.7L474.8 605.6L475.1 605.2L475.4 605.1L475.7 605.1L476 605.1L476.2 605.3L476.5 605.2L476.8 605.5L477.1 605L477.4 605L477.7 605.4L478 605.4L478.3 605.1L478.5 605.4L478.8 605L479.1 605.1L479.4 605.2L479.7 605L480 605.2L480.3 605.4L480.6 605.3L480.9 605.1L481.1 605.1L481.4 605.4L481.7 605L482 605.4L482.3 605L482.6 605.5L482.9 605.1L483.2 605L483.4 605L483.7 609L484 612.6L484.3 616.3L484.6 612.7L484.9 609.2L485.2 605.1L485.5 605.2L485.8 605.1L486 605.2L486.3 605.2L486.6 605.1L486.9 605L487.2 605.1L487.5 605.3L487.8 605.3L488.1 605.4L488.4 605L488.6 605.2L488.9 605.1L489.2 605L489.5 605L489.8 605.2L490.1 605.1L490.4 605.1L490.7 605.2L490.9 605L491.2 604.9L491.5 605L491.8 604.9L492.1 605.1L492.4 605.1L492.7 605.1L493 605L493.3 604.9L493.5 604.8L493.8 605.1L494.1 605L494.4 604.8L494.7 605.1L495 605.1L495.3 605L495.6 605L495.9 605L496.1 604.8L496.4 605L496.7 605.2L497 604.8L497.3 604.9L497.6 604.6L497.9 604.9L498.2 604.7L498.4 604.8L498.7 605L499 605L499.3 605L499.6 605.1L499.9 605L500.2 604.8L500.5 604.6L500.8 604.6L501 604.9L501.3 609.2L501.6 613.8L501.9 618.4L502.2 620.1L502.5 615.1L502.8 609.8L503.1 604.6L503.3 604.7L503.6 604.9L503.9 605L504.2 604.6L504.5 604.9L504.8 605.1L505.1 605L505.4 604.5L505.7 604.9L505.9 604.5L506.2 604.7L506.5 604.5L506.8 604.4L507.1 604.3L507.4 604.6L507.7 605L508 604.6L508.3 604.6L508.5 604.7L508.8 604.6L509.1 604.6L509.4 604.3L509.7 604.3L510 604.5L510.3 604.5L510.6 604.4L510.8 604.2L511.1 604.5L511.4 604.4L511.7 604.1L512 604.3L512.3 604.2L512.6 604.7L512.9 604.4L513.2 604.2L513.4 604.5L513.7 604.4L514 604.3L514.3 604.3L514.6 604.4L514.9 604.2L515.2 604.3L515.5 604.4L515.8 603.8L516 604.3L516.3 604.4L516.6 604.2L516.9 604.3L517.2 604.1L517.5 604.1L517.8 604L518.1 604.4L518.3 604.1L518.6 604.3L518.9 604.2L519.2 604.2L519.5 604.1L519.8 604.3L520.1 604.2L520.4 604.1L520.7 604.3L520.9 603.9L521.2 604L521.5 604.2L521.8 604L522.1 603.9L522.4 604.1L522.7 603.9L523 603.7L523.2 604.1L523.5 604.4L523.8 604L524.1 604.1L524.4 604L524.7 604L525 604L525.3 604.1L525.6 604L525.8 604L526.1 604L526.4 603.9L526.7 603.7L527 604.1L527.3 603.9L527.6 604.3L527.9 604.2L528.2 604.2L528.4 603.8L528.7 603.9L529 603.7L529.3 603.9L529.6 604L529.9 603.8L530.2 604.2L530.5 604L530.7 603.9L531 604.1L531.3 604L531.6 604.1L531.9 604.2L532.2 604L532.5 603.9L532.8 604.2L533.1 604.1L533.3 603.9L533.6 604.2L533.9 603.7L534.2 604.2L534.5 604.1L534.8 604.1L535.1 603.9L535.4 604L535.6 604.2L535.9 604.1L536.2 603.7L536.5 604L536.8 603.8L537.1 603.9L537.4 604.1L537.7 603.9L538 603.7L538.2 603.9L538.5 603.9L538.8 604.1L539.1 603.8L539.4 604.2L539.7 603.7L540 604.2L540.3 604L540.6 603.9L540.8 604L541.1 604L541.4 603.7L541.7 603.6L542 603.8L542.3 604L542.6 604.2L542.9 603.9L543.1 603.8L543.4 603.9L543.7 603.7L544 603.8L544.3 603.8L544.6 603.9L544.9 603.9L545.2 603.8L545.5 604.1L545.7 604L546 603.7L546.3 603.8L546.6 603.8L546.9 604.2L547.2 603.8L547.5 604L547.8 604L548.1 603.7L548.3 604.1L548.6 603.9L548.9 603.8L549.2 603.8L549.5 604L549.8 603.8L550.1 603.9L550.4 604L550.6 603.8L550.9 604L551.2 603.9L551.5 603.8L551.8 604.2L552.1 603.7L552.4 603.7L552.7 603.7L553 604.2L553.2 604L553.5 603.4L553.8 603.7L554.1 603.8L554.4 603.9L554.7 603.9L555 603.8L555.3 603.8L555.5 603.6L555.8 603.9L556.1 603.7L556.4 603.7L556.7 603.9L557 604.1L557.3 603.8L557.6 603.9L557.9 604L558.1 603.6L558.4 603.8L558.7 604L559 603.5L559.3 603.8L559.6 603.6L559.9 603.7L560.2 603.8L560.5 603.5L560.7 604L561 603.6L561.3 603.7L561.6 603.7L561.9 603.7L562.2 603.7L562.5 603.6L562.8 603.7L563 603.7L563.3 603.8L563.6 603.7L563.9 603.7L564.2 603.8L564.5 603.8L564.8 603.6L565.1 603.7L565.4 604.1L565.6 603.6L565.9 603.7L566.2 603.6L566.5 603.4L566.8 603.7L567.1 603.6L567.4 603.7L567.7 604L568 603.8L568.2 603.8L568.5 603.7L568.8 603.8L569.1 603.9L569.4 603.5L569.7 603.5L570 603.6L570.3 603.9L570.5 603.6L570.8 603.7L571.1 603.5L571.4 603.4L571.7 604L572 603.6L572.3 603.9L572.6 603.5L572.9 603.7L573.1 603.8L573.4 603.4L573.7 603.8L574 603.5L574.3 603.9L574.6 603.7L574.9 603.6L575.2 604L575.4 603.9L575.7 603.5L576 603.6L576.3 603.5L576.6 603.4L576.9 603.5L577.2 603.6L577.5 603.6L577.8 603.4L578 603.7L578.3 603.6L578.6 603.4L578.9 603.8L579.2 603.6L579.5 603.5L579.8 603.8L580.1 603.6L580.4 603.5L580.6 603.8" fill="none" stroke="#000000" stroke-width="0.75" stroke-linejoin="round"/>
<rect x="583.8" y="572.6" width="90.95" height="65.4" fill="#fff" stroke="#6a6a6a" stroke-width="1.1"/>
<path d="M587.2 583.5H603.4" stroke="#f00" stroke-width="0.6"/>
<circle cx="595.1" cy="583.5" r="1.8" fill="#f00"/>
<text transform="translate(606.8,587) scale(1,1.0)" font-size="10">Alpha RL</text>
<path d="M587.2 605.4H603.4" stroke="#00f" stroke-width="0.6"/>
<rect x="593.3" y="603.6" width="3.6" height="3.6" fill="#00f"/>
<text transform="translate(606.8,608.9) scale(1,1.0)" font-size="10">X-ray RL</text>
<path d="M587.2 627.4H603.4" stroke="#000" stroke-width="0.6"/>
<rect x="593.3" y="625.6" width="3.6" height="3.6" fill="#000"/>
<text transform="translate(606.8,630.9) scale(1,1.0)" font-size="10">Transparency</text>
</svg>
</body></html>
